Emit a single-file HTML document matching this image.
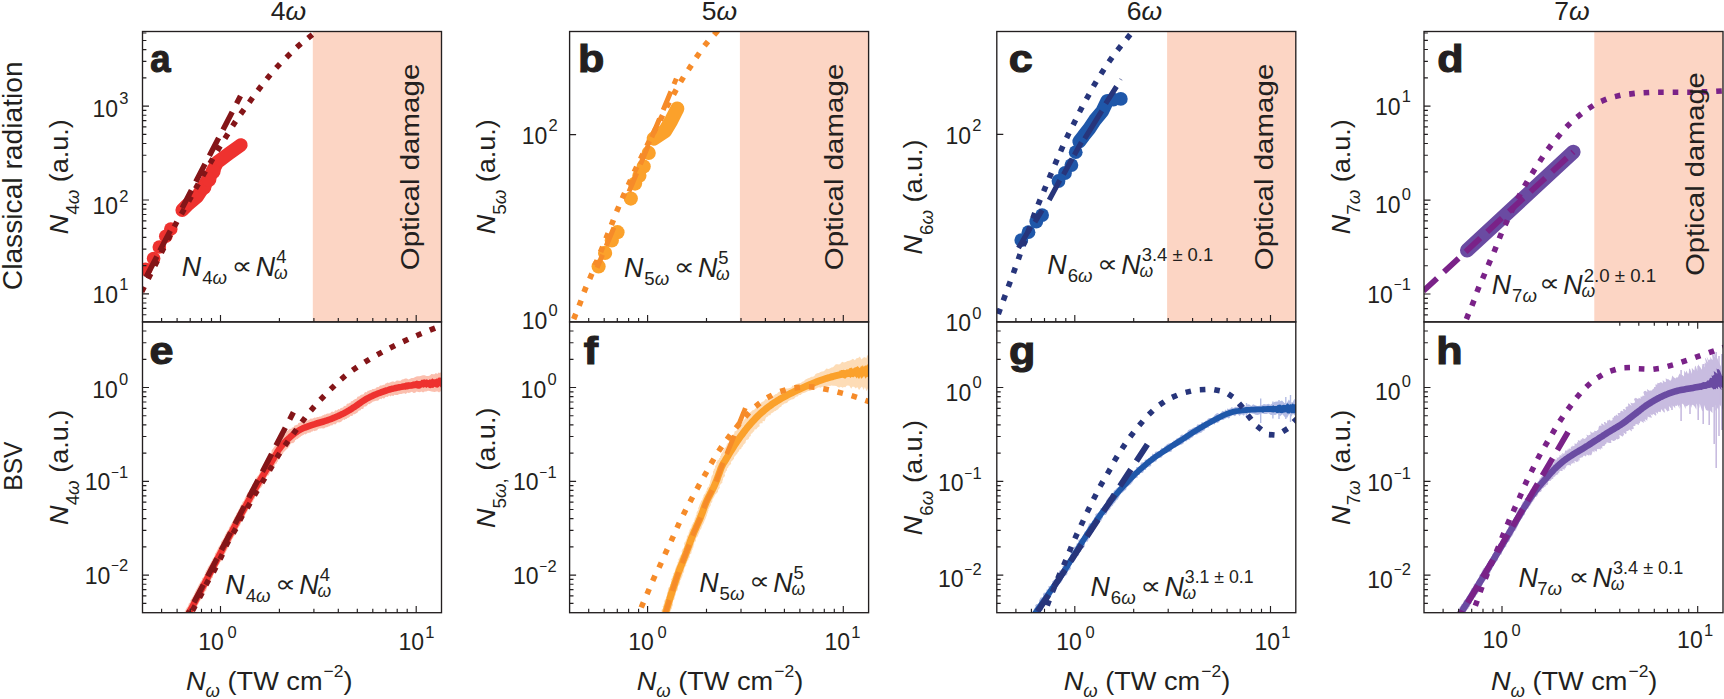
<!DOCTYPE html>
<html lang="en"><head><meta charset="utf-8"><title>Harmonic yield scaling</title>
<style>html,body{margin:0;padding:0;background:#fff;}body{width:1724px;height:699px;overflow:hidden;}svg{display:block;}</style>
</head><body>
<svg width="1724" height="699" viewBox="0 0 1724 699" font-family="'Liberation Sans', 'DejaVu Sans', sans-serif" fill="#231f20">
<rect width="1724" height="699" fill="#fff"/>
<defs>
<clipPath id="cp00"><rect x="142.5" y="31.5" width="299.0" height="290.4"/></clipPath>
<clipPath id="cp01"><rect x="569.6" y="31.5" width="299.0" height="290.4"/></clipPath>
<clipPath id="cp02"><rect x="996.8" y="31.5" width="299.0" height="290.4"/></clipPath>
<clipPath id="cp03"><rect x="1424.0" y="31.5" width="299.0" height="290.4"/></clipPath>
<clipPath id="cp10"><rect x="142.5" y="321.9" width="299.0" height="290.8"/></clipPath>
<clipPath id="cp11"><rect x="569.6" y="321.9" width="299.0" height="290.8"/></clipPath>
<clipPath id="cp12"><rect x="996.8" y="321.9" width="299.0" height="290.8"/></clipPath>
<clipPath id="cp13"><rect x="1424.0" y="321.9" width="299.0" height="290.8"/></clipPath>
</defs>
<rect x="312.8" y="31.5" width="128.7" height="290.4" fill="#fcd5c4"/>
<g clip-path="url(#cp00)">
<path d="M240.9 145.0L229.0 153.5L217.3 162.2L212.2 172.2L207.0 181.0L203.7 186.5L197.2 196.5L187.2 205.1L182.2 210.1" stroke="#ee322f" stroke-width="13.6" stroke-linecap="round" stroke-linejoin="round" fill="none"/><circle cx="170.8" cy="229.0" r="6.8" fill="#ee322f"/><circle cx="165.8" cy="236.3" r="6.8" fill="#ee322f"/><circle cx="159.3" cy="247.0" r="6.8" fill="#ee322f"/><circle cx="153.6" cy="258.5" r="6.8" fill="#ee322f"/><circle cx="145.7" cy="269.2" r="6.8" fill="#ee322f"/><circle cx="213.2" cy="171.5" r="7.4" fill="#ee322f"/><circle cx="204.0" cy="187.3" r="7.4" fill="#ee322f"/><circle cx="209.0" cy="179.5" r="7.4" fill="#ee322f"/><path d="M128.6 317.8L131.1 312.8M135.1 304.8L137.6 299.8M141.7 291.8L144.2 286.8M148.2 278.8L150.7 273.8M154.8 265.8L157.3 260.8M161.3 252.8L163.8 247.8M167.8 239.8L170.4 234.8M174.3 226.8L176.9 221.8M181.4 214.1L184.2 209.2M188.6 201.4L191.3 196.5M195.6 188.7L198.3 183.8M202.7 176.0L205.4 171.1M210.0 163.4L212.8 158.6M217.3 150.8L220.2 146.0M224.9 138.4L227.9 133.7M232.6 126.0L235.6 121.4M240.7 114.0L244.0 109.4M249.3 102.3L252.6 97.7M257.9 90.5L261.3 86.0M266.8 79.0L270.3 74.7M276.2 67.9L280.0 63.8M286.4 57.5L290.4 53.6M296.7 47.3L301.0 43.6M308.0 38.1L312.4 34.6M319.4 29.1L323.8 25.6M330.8 20.0L335.1 16.5" stroke="#841518" stroke-width="5.6" fill="none"/><path d="M240.5 96.1L236.6 103.6M232.2 112.0L223.0 129.7M218.6 138.0L209.4 155.8M205.0 164.1L195.8 181.8M191.4 190.2L182.2 207.9M170.3 230.8L159.8 250.8M156.9 256.5L146.0 277.2" stroke="#841518" stroke-width="5.5" fill="none"/>
</g>
<path d="M142.5 314.7h3.9M142.5 308.4h3.9M142.5 303.0h3.9M142.5 298.2h3.9M142.5 293.9h6.5M142.5 265.6h3.9M142.5 249.1h3.9M142.5 237.4h3.9M142.5 228.3h3.9M142.5 220.8h3.9M142.5 214.5h3.9M142.5 209.1h3.9M142.5 204.3h3.9M142.5 200.0h6.5M142.5 171.7h3.9M142.5 155.2h3.9M142.5 143.5h3.9M142.5 134.4h3.9M142.5 126.9h3.9M142.5 120.6h3.9M142.5 115.2h3.9M142.5 110.4h3.9M142.5 106.1h6.5M142.5 77.8h3.9M142.5 61.3h3.9M142.5 49.6h3.9M142.5 40.5h3.9M142.5 33.0h3.9M161.6 321.9v-3.9M177.1 321.9v-3.9M190.2 321.9v-3.9M201.5 321.9v-3.9M211.5 321.9v-3.9M220.5 321.9v-6.8M279.4 321.9v-3.9M313.9 321.9v-3.9M338.3 321.9v-3.9M357.3 321.9v-3.9M372.8 321.9v-3.9M385.9 321.9v-3.9M397.2 321.9v-3.9M407.2 321.9v-3.9M416.2 321.9v-6.8" stroke="#231f20" stroke-width="1.15" fill="none"/>
<rect x="142.5" y="31.5" width="299.0" height="290.4" fill="none" stroke="#231f20" stroke-width="1.35"/>
<text x="128.5" y="117.0" font-size="23" text-anchor="end">10<tspan font-size="16.5" dy="-12.6" dx="1.2">3</tspan></text>
<text x="128.5" y="214.3" font-size="23" text-anchor="end">10<tspan font-size="16.5" dy="-12.6" dx="1.2">2</tspan></text>
<text x="128.5" y="302.8" font-size="23" text-anchor="end">10<tspan font-size="16.5" dy="-12.6" dx="1.2">1</tspan></text>
<text transform="translate(150.2 71.6) scale(0.95 1.03)" font-size="38.5" font-weight="bold" stroke="#231f20" stroke-width="1.1">a</text>
<text transform="translate(68.0 176.7) rotate(-90) scale(1.02 1)" font-size="26.5" text-anchor="middle"><tspan font-style="italic">N</tspan><tspan font-size="18.4" dy="10.5">4<tspan font-style="italic">ω</tspan></tspan><tspan dy="-10.5"> (a.u.)</tspan></text>
<text x="181.8" y="275.7" font-size="26.8" font-style="italic">N</text><text x="202.2" y="284.0" font-size="18.6">4<tspan font-style="italic">ω</tspan></text><text transform="translate(231.6 273.5) scale(1.22 1)" font-size="24">∝</text><text x="255.8" y="275.7" font-size="26.8" font-style="italic">N</text><text x="276.2" y="263.1" font-size="18.4">4</text><text x="274.0" y="278.7" font-size="17.5" font-style="italic">ω</text>
<text x="288.4" y="19.7" font-size="26.5" text-anchor="middle">4<tspan font-style="italic">ω</tspan></text>
<text transform="translate(418.5 167.0) rotate(-90) scale(1.157 1)" font-size="25.5" text-anchor="middle">Optical damage</text>
<rect x="739.9" y="31.5" width="128.7" height="290.4" fill="#fcd5c4"/>
<g clip-path="url(#cp01)">
<path d="M677.3 108.6L671.0 121.0L665.0 131.0L653.7 138.6" stroke="#fba12b" stroke-width="14.2" stroke-linecap="round" stroke-linejoin="round" fill="none"/><circle cx="648.7" cy="152.9" r="7.1" fill="#fba12b"/><circle cx="643.7" cy="166.5" r="7.1" fill="#fba12b"/><circle cx="639.4" cy="175.7" r="7.1" fill="#fba12b"/><circle cx="635.1" cy="183.6" r="7.1" fill="#fba12b"/><circle cx="630.8" cy="198.6" r="7.1" fill="#fba12b"/><circle cx="617.5" cy="232.2" r="7.1" fill="#fba12b"/><circle cx="611.8" cy="240.4" r="7.1" fill="#fba12b"/><circle cx="605.1" cy="252.9" r="7.1" fill="#fba12b"/><circle cx="598.6" cy="266.5" r="7.1" fill="#fba12b"/><path d="M562.9 346.0L565.0 340.8M568.3 332.5L570.4 327.3M573.7 319.1L575.8 313.9M579.1 305.7L581.1 300.5M584.0 292.1L586.1 286.9M589.7 278.8L591.9 273.6M595.1 265.4L597.2 260.2M600.6 252.0L602.7 246.8M606.0 238.5L608.1 233.3M611.4 225.1L613.4 219.9M616.6 211.6L618.8 206.5M622.3 198.3L624.6 193.2M628.3 185.2L630.6 180.1M634.3 172.0L636.7 166.9M640.6 159.0L643.0 153.9M646.9 146.0L649.4 141.0M653.5 133.0L656.0 128.1M660.1 120.2L662.6 115.2M666.6 107.3L669.2 102.3M673.5 94.6L676.2 89.7M680.6 81.9L683.5 77.1M688.4 69.7L691.4 65.1M696.2 57.6L699.4 53.0M704.5 45.8L708.0 41.4M714.1 34.9L717.8 30.7M723.8 24.2L727.5 20.0M733.5 13.4L737.2 9.3" stroke="#f68b29" stroke-width="5.6" fill="none"/><path d="M676.3 78.6L674.0 84.1M670.9 91.5L663.2 110.0M659.5 118.7L651.8 137.2M648.1 145.9L640.4 164.4M636.7 173.1L629.0 191.6M613.9 227.6L606.2 246.0M602.5 254.8L597.1 267.7" stroke="#f68b29" stroke-width="5.0" fill="none"/>
</g>
<path d="M569.6 134.6h6.5M588.7 321.9v-3.9M604.2 321.9v-3.9M617.3 321.9v-3.9M628.6 321.9v-3.9M638.6 321.9v-3.9M647.6 321.9v-6.8M706.5 321.9v-3.9M741.0 321.9v-3.9M765.4 321.9v-3.9M784.4 321.9v-3.9M799.9 321.9v-3.9M813.0 321.9v-3.9M824.3 321.9v-3.9M834.3 321.9v-3.9M843.3 321.9v-6.8" stroke="#231f20" stroke-width="1.15" fill="none"/>
<rect x="569.6" y="31.5" width="299.0" height="290.4" fill="none" stroke="#231f20" stroke-width="1.35"/>
<text x="557.8" y="143.8" font-size="23" text-anchor="end">10<tspan font-size="16.5" dy="-12.6" dx="1.2">2</tspan></text>
<text x="557.8" y="329.0" font-size="23" text-anchor="end">10<tspan font-size="16.5" dy="-12.6" dx="1.2">0</tspan></text>
<text transform="translate(578.1 71.6) scale(1.12 1.03)" font-size="38.5" font-weight="bold" stroke="#231f20" stroke-width="1.1">b</text>
<text transform="translate(495.1 176.7) rotate(-90) scale(1.02 1)" font-size="26.5" text-anchor="middle"><tspan font-style="italic">N</tspan><tspan font-size="18.4" dy="10.5">5<tspan font-style="italic">ω</tspan></tspan><tspan dy="-10.5"> (a.u.)</tspan></text>
<text x="623.9" y="276.8" font-size="26.8" font-style="italic">N</text><text x="644.3" y="285.1" font-size="18.6">5<tspan font-style="italic">ω</tspan></text><text transform="translate(673.7 274.6) scale(1.22 1)" font-size="24">∝</text><text x="697.9" y="276.8" font-size="26.8" font-style="italic">N</text><text x="718.3" y="264.2" font-size="18.4">5</text><text x="716.1" y="279.8" font-size="17.5" font-style="italic">ω</text>
<text x="719.5" y="19.7" font-size="26.5" text-anchor="middle">5<tspan font-style="italic">ω</tspan></text>
<text transform="translate(843.0 167.0) rotate(-90) scale(1.157 1)" font-size="25.5" text-anchor="middle">Optical damage</text>
<rect x="1167.1" y="31.5" width="128.7" height="290.4" fill="#fcd5c4"/>
<g clip-path="url(#cp02)">
<path d="M1107.2 100.9L1102.2 111.4L1095.0 120.0L1089.3 128.6L1083.6 135.8L1079.3 141.5" stroke="#1f57a9" stroke-width="13.8" stroke-linecap="round" stroke-linejoin="round" fill="none"/><circle cx="1120.8" cy="98.9" r="6.9" fill="#1f57a9"/><circle cx="1113.5" cy="99.6" r="6.9" fill="#1f57a9"/><circle cx="1075.7" cy="152.2" r="6.9" fill="#1f57a9"/><circle cx="1071.4" cy="165.1" r="6.9" fill="#1f57a9"/><circle cx="1065.0" cy="173.0" r="6.9" fill="#1f57a9"/><circle cx="1058.5" cy="181.0" r="6.9" fill="#1f57a9"/><circle cx="1042.1" cy="215.1" r="6.9" fill="#1f57a9"/><circle cx="1036.3" cy="221.5" r="6.9" fill="#1f57a9"/><circle cx="1028.5" cy="232.2" r="6.9" fill="#1f57a9"/><circle cx="1021.3" cy="240.1" r="6.9" fill="#1f57a9"/><path d="M988.3 341.3L990.2 336.0M993.3 327.7L995.2 322.4M998.3 314.0L1000.2 308.8M1003.3 300.4L1005.3 295.1M1008.3 286.7L1010.3 281.5M1013.4 273.1L1015.3 267.8M1018.3 259.4L1020.1 254.2M1023.1 245.7L1025.0 240.5M1028.0 232.1L1029.9 226.8M1032.8 218.4L1034.8 213.1M1038.1 204.8L1040.2 199.6M1043.7 191.4L1045.8 186.2M1049.2 178.0L1051.4 172.8M1054.9 164.6L1057.1 159.4M1060.6 151.3L1062.9 146.1M1066.6 138.0L1069.0 133.0M1073.1 125.0L1075.6 120.0M1079.5 112.0L1082.1 107.0M1086.4 99.2L1089.1 94.3M1093.4 86.4L1096.2 81.6M1101.0 74.1L1104.0 69.3M1108.9 61.8L1112.1 57.3M1117.5 50.2L1121.0 45.8M1126.7 38.9L1130.2 34.6M1135.9 27.6L1139.4 23.3M1145.0 16.4L1148.6 12.0" stroke="#27357b" stroke-width="5.6" fill="none"/><path d="M1116.5 86.5L1105.7 103.7M1101.8 110.8L1084.7 138.6M1081.4 142.2L1074.3 155.1M1072.1 158.7L1063.5 174.4M1059.8 180.2L1049.2 200.0M1042.1 210.1L1034.9 222.2M1030.6 227.2L1018.5 248.0" stroke="#27357b" stroke-width="5.2" fill="none"/><path d="M1119.3 78.6L1122.3 80.2" stroke="#27357b" stroke-width="0.6"/>
</g>
<path d="M996.8 134.4h6.5M1015.9 321.9v-3.9M1031.4 321.9v-3.9M1044.5 321.9v-3.9M1055.8 321.9v-3.9M1065.8 321.9v-3.9M1074.8 321.9v-6.8M1133.7 321.9v-3.9M1168.2 321.9v-3.9M1192.6 321.9v-3.9M1211.6 321.9v-3.9M1227.1 321.9v-3.9M1240.2 321.9v-3.9M1251.5 321.9v-3.9M1261.5 321.9v-3.9M1270.5 321.9v-6.8" stroke="#231f20" stroke-width="1.15" fill="none"/>
<rect x="996.8" y="31.5" width="299.0" height="290.4" fill="none" stroke="#231f20" stroke-width="1.35"/>
<text x="981.4" y="143.7" font-size="23" text-anchor="end">10<tspan font-size="16.5" dy="-12.6" dx="1.2">2</tspan></text>
<text x="981.4" y="331.4" font-size="23" text-anchor="end">10<tspan font-size="16.5" dy="-12.6" dx="1.2">0</tspan></text>
<text transform="translate(1008.7 71.6) scale(1.12 1.03)" font-size="38.5" font-weight="bold" stroke="#231f20" stroke-width="1.1">c</text>
<text transform="translate(922.3 197.0) rotate(-90) scale(1.02 1)" font-size="26.5" text-anchor="middle"><tspan font-style="italic">N</tspan><tspan font-size="18.4" dy="10.5">6<tspan font-style="italic">ω</tspan></tspan><tspan dy="-10.5"> (a.u.)</tspan></text>
<text x="1047.3" y="273.9" font-size="26.8" font-style="italic">N</text><text x="1067.7" y="282.2" font-size="18.6">6<tspan font-style="italic">ω</tspan></text><text transform="translate(1097.1 271.7) scale(1.22 1)" font-size="24">∝</text><text x="1121.3" y="273.9" font-size="26.8" font-style="italic">N</text><text x="1141.7" y="261.3" font-size="18.4" textLength="71.5" lengthAdjust="spacingAndGlyphs">3.4 ± 0.1</text><text x="1139.5" y="276.9" font-size="17.5" font-style="italic">ω</text>
<text x="1144.4" y="19.7" font-size="26.5" text-anchor="middle">6<tspan font-style="italic">ω</tspan></text>
<text transform="translate(1273.3 167.0) rotate(-90) scale(1.157 1)" font-size="25.5" text-anchor="middle">Optical damage</text>
<rect x="1594.3" y="31.5" width="128.7" height="290.4" fill="#fcd5c4"/>
<g clip-path="url(#cp03)">
<path d="M1467.2 250.3L1573.4 151.9" stroke="#6a4ba2" stroke-width="14.4" stroke-linecap="round" stroke-linejoin="round" fill="none"/><path d="M1455.5 346.0L1457.6 340.8M1461.0 332.5L1463.1 327.4M1466.4 319.1L1468.5 313.9M1471.9 305.7L1474.0 300.4M1476.9 292.0L1479.0 286.8M1482.6 278.7L1484.8 273.5M1488.2 265.3L1490.4 260.1M1494.0 252.0L1496.1 246.8M1499.3 238.5L1501.4 233.3M1505.1 225.1L1507.4 220.1M1511.2 212.0L1513.6 206.9M1517.6 199.0L1520.2 194.0M1524.5 186.2L1527.3 181.3M1532.0 173.7L1534.9 169.0M1539.7 161.5L1542.8 156.8M1547.9 149.5L1551.2 145.0M1556.9 138.1L1560.5 133.8M1566.4 127.1L1570.3 123.2M1577.0 117.3L1581.4 113.8M1588.6 108.5L1593.3 105.5M1601.2 101.3L1606.4 99.2M1614.9 96.6L1620.4 95.3M1629.2 94.1L1634.8 93.4M1643.6 92.8L1649.2 92.5M1658.1 92.2L1663.7 92.2M1672.7 92.2L1678.3 92.2M1687.2 92.2L1692.8 92.2M1701.7 91.9L1707.3 91.7M1716.2 91.3L1721.8 91.0M1730.7 90.5L1736.3 90.3M1745.2 89.8L1750.8 89.5" stroke="#7a2288" stroke-width="5.6" fill="none"/><path d="M1573.4 151.9L1572.3 152.9M1566.8 158.0L1552.1 171.6M1545.2 178.1L1530.5 191.7M1523.5 198.1L1508.9 211.7M1501.9 218.2L1487.2 231.8M1480.3 238.2L1465.6 251.8M1458.6 258.3L1444.0 271.9M1437.0 278.3L1423.4 290.9" stroke="#7a2288" stroke-width="5.8" fill="none"/>
</g>
<path d="M1424.0 314.8h3.9M1424.0 308.6h3.9M1424.0 303.1h3.9M1424.0 298.3h3.9M1424.0 294.0h6.5M1424.0 265.7h3.9M1424.0 249.2h3.9M1424.0 237.4h3.9M1424.0 228.3h3.9M1424.0 220.9h3.9M1424.0 214.6h3.9M1424.0 209.2h3.9M1424.0 204.3h3.9M1424.0 200.1h6.5M1424.0 171.8h3.9M1424.0 155.2h3.9M1424.0 143.5h3.9M1424.0 134.4h3.9M1424.0 126.9h3.9M1424.0 120.7h3.9M1424.0 115.2h3.9M1424.0 110.4h3.9M1424.0 106.1h6.5M1424.0 77.8h3.9M1424.0 61.3h3.9M1424.0 49.5h3.9M1424.0 40.4h3.9M1424.0 33.0h3.9M1619.8 321.9v3.9M1638.8 321.9v3.9M1654.3 321.9v3.9M1667.4 321.9v3.9M1678.7 321.9v3.9M1688.7 321.9v3.9M1697.7 321.9v6.8" stroke="#231f20" stroke-width="1.15" fill="none"/>
<rect x="1424.0" y="31.5" width="299.0" height="290.4" fill="none" stroke="#231f20" stroke-width="1.35"/>
<text x="1411.0" y="114.9" font-size="23" text-anchor="end">10<tspan font-size="16.5" dy="-12.6" dx="1.2">1</tspan></text>
<text x="1411.0" y="212.6" font-size="23" text-anchor="end">10<tspan font-size="16.5" dy="-12.6" dx="1.2">0</tspan></text>
<text x="1411.0" y="302.8" font-size="23" text-anchor="end">10<tspan font-size="13.5" dy="-13.6" dx="1.0">−</tspan><tspan font-size="16.5" dy="1.0">1</tspan></text>
<text transform="translate(1437.2 71.6) scale(1.12 1.03)" font-size="38.5" font-weight="bold" stroke="#231f20" stroke-width="1.1">d</text>
<text transform="translate(1349.5 176.7) rotate(-90) scale(1.02 1)" font-size="26.5" text-anchor="middle"><tspan font-style="italic">N</tspan><tspan font-size="18.4" dy="10.5">7<tspan font-style="italic">ω</tspan></tspan><tspan dy="-10.5"> (a.u.)</tspan></text>
<text x="1491.7" y="293.6" font-size="26.8" font-style="italic">N</text><text x="1512.1" y="301.9" font-size="18.6">7<tspan font-style="italic">ω</tspan></text><text transform="translate(1539.1 291.4) scale(1.22 1)" font-size="24">∝</text><text x="1563.3" y="293.6" font-size="26.8" font-style="italic">N</text><text x="1583.7" y="282.2" font-size="18.4" textLength="72.5" lengthAdjust="spacingAndGlyphs">2.0 ± 0.1</text><text x="1581.5" y="296.6" font-size="17.5" font-style="italic">ω</text>
<text x="1571.9" y="19.7" font-size="26.5" text-anchor="middle">7<tspan font-style="italic">ω</tspan></text>
<text transform="translate(1703.8 174.0) rotate(-90) scale(1.14 1)" font-size="25.5" text-anchor="middle">Optical damage</text>
<g clip-path="url(#cp10)">
<path d="M183.0 616.3L183.0 616.0L182.8 615.6L183.5 615.7L183.4 615.3L182.9 614.6L183.2 614.3L183.6 614.0L183.8 613.5L184.2 613.0L184.4 612.4L184.7 611.6L185.5 611.0L185.4 609.9L186.1 608.9L186.7 607.8L187.7 606.7L188.4 605.3L188.8 603.6L190.3 602.3L190.4 600.3L191.7 598.7L192.7 597.0L193.8 595.3L194.5 593.4L195.4 591.6L196.2 589.7L197.3 588.1L198.0 586.4L198.8 584.7L199.8 583.2L200.6 581.5L201.9 580.1L202.2 578.2L203.8 576.9L204.4 575.1L205.3 573.5L205.7 571.6L206.7 570.1L207.5 568.4L208.2 566.7L209.4 565.2L210.4 563.6L211.0 561.9L212.3 560.4L212.7 558.6L214.1 557.2L214.7 555.4L215.1 553.5L216.3 552.0L217.0 550.3L217.9 548.7L218.5 546.9L219.8 545.5L220.8 543.9L221.0 541.9L222.2 540.5L223.2 539.0L224.4 537.5L224.7 535.6L225.6 534.0L226.4 532.4L227.3 530.7L228.7 529.4L229.0 527.5L230.2 526.1L230.8 524.3L231.8 522.9L232.7 521.3L233.6 519.7L234.1 517.9L235.1 516.4L236.2 514.9L236.6 513.1L238.0 511.8L238.4 510.0L239.6 508.6L240.0 506.7L240.9 505.1L242.2 503.8L242.5 502.0L244.0 500.7L244.6 499.0L245.2 497.3L246.6 496.1L246.9 494.2L247.8 492.6L249.3 491.4L249.7 489.4L251.0 488.0L251.9 486.4L252.3 484.5L254.0 483.4L254.2 481.4L255.4 480.2L255.8 478.5L256.7 477.2L257.6 476.0L258.6 475.0L259.3 473.9L259.6 472.7L259.9 471.6L260.4 470.6L260.9 469.8L261.4 469.0L262.6 468.8L262.9 468.0L262.9 467.0L263.5 466.5L263.7 465.8L264.3 465.4L264.5 464.7L264.9 464.1L265.1 463.4L265.8 463.1L265.4 462.1L265.7 461.7L266.2 461.3L267.0 461.2L267.0 460.7L267.1 460.1L267.0 459.4L268.0 459.4L268.2 458.9L267.6 457.8L268.8 457.8L268.9 457.0L269.2 456.4L269.3 455.6L270.1 455.1L270.6 454.4L270.3 453.2L271.5 452.8L271.6 451.7L271.6 450.6L272.0 449.7L272.9 449.1L273.4 448.1L274.0 447.3L274.5 446.4L275.0 445.4L276.1 445.0L276.3 443.9L276.3 442.7L276.9 441.9L278.2 441.7L278.9 441.0L279.0 439.8L279.5 438.9L280.2 438.2L281.5 438.1L282.3 437.4L282.2 435.9L283.6 435.9L283.5 434.3L285.1 434.5L285.7 433.7L285.9 432.4L286.4 431.4L287.3 430.9L288.2 430.2L289.0 429.5L289.9 428.8L291.4 428.9L291.8 427.6L293.0 427.4L293.9 426.7L294.5 425.5L295.7 425.3L296.7 424.8L297.9 424.6L298.3 422.9L299.4 422.7L300.4 422.4L301.4 422.0L302.5 421.8L303.2 420.9L304.7 421.6L305.2 420.1L306.5 420.4L307.6 420.4L308.6 420.0L309.6 419.5L310.6 418.6L312.1 418.7L313.3 418.2L314.5 417.6L315.9 417.8L317.1 417.0L318.5 417.1L319.7 416.6L321.1 416.5L322.2 415.6L323.4 415.3L324.4 414.5L325.7 414.6L326.6 413.7L327.7 413.5L328.9 413.4L330.2 413.3L331.0 412.3L332.0 411.6L333.4 412.0L334.5 411.5L335.1 410.2L336.5 410.5L337.5 410.0L338.2 409.0L339.6 409.4L340.3 408.6L341.0 407.8L342.3 408.1L342.7 407.2L343.6 407.1L343.8 405.8L344.8 405.9L345.6 405.8L346.4 405.6L346.5 404.2L347.1 403.7L348.0 403.5L349.0 403.6L349.5 402.7L350.6 402.7L350.9 401.3L352.0 401.3L352.8 400.8L353.5 400.0L354.4 399.6L355.3 398.9L356.6 398.8L357.1 397.5L357.8 396.5L359.3 396.6L360.1 395.6L361.1 394.8L362.5 394.5L363.7 394.2L364.4 392.7L365.5 392.1L366.9 392.2L367.6 390.8L369.0 390.7L370.0 389.9L371.4 389.9L372.4 389.1L373.6 388.9L374.9 388.7L376.0 388.3L376.8 386.9L378.2 387.3L379.2 386.5L380.1 385.5L381.3 385.4L382.5 385.3L383.5 384.7L384.7 384.8L385.5 383.6L386.5 383.2L387.5 382.6L388.8 382.9L389.9 382.4L391.0 382.0L392.2 381.4L393.5 381.4L395.0 382.1L396.1 380.7L397.5 380.6L399.1 380.8L400.6 380.8L402.0 379.5L403.6 379.3L405.1 378.5L406.7 378.4L408.5 379.4L410.1 378.8L411.6 378.0L413.3 378.1L414.8 377.2L416.3 376.6L417.9 376.2L419.5 376.2L421.2 375.8L422.9 375.3L424.6 375.2L426.5 376.1L428.2 375.9L429.9 375.4L431.4 374.0L433.1 374.2L434.6 374.2L435.9 372.9L437.4 373.9L438.4 372.5L439.5 373.0L440.3 372.3L441.3 373.5L441.8 371.6L442.4 372.2L443.0 372.6L443.4 372.1L443.8 372.9L444.1 372.4L444.4 372.6L444.5 371.6L444.7 370.9L444.9 371.6L445.0 372.5L445.2 371.9L446.8 391.1L446.8 393.3L446.4 391.9L446.1 391.0L446.0 391.8L445.7 390.8L445.6 391.9L445.3 391.0L445.0 391.1L444.6 391.0L444.2 391.0L443.6 390.9L442.9 391.0L442.2 391.0L441.3 391.7L440.2 391.3L439.1 392.5L437.7 391.4L436.2 391.5L434.8 391.9L433.1 391.7L431.5 391.6L429.7 391.0L428.0 390.7L426.3 391.6L424.6 391.5L423.1 392.5L421.3 391.5L419.9 392.2L418.3 392.1L416.6 391.4L415.2 392.8L413.6 393.1L411.9 391.8L410.3 392.4L408.8 393.1L407.2 392.4L405.9 394.0L404.3 393.3L402.8 393.6L401.5 393.9L400.1 394.0L398.9 394.2L397.7 394.9L396.6 395.0L395.4 394.9L394.3 394.8L393.5 396.1L392.4 395.7L391.3 395.6L390.6 396.6L389.2 395.6L388.4 396.2L387.6 397.0L386.4 396.7L385.4 397.0L384.6 398.2L383.6 398.5L382.2 398.1L381.5 399.2L380.1 398.7L379.1 399.4L378.4 400.5L377.3 400.8L376.0 400.8L375.0 401.1L373.9 401.4L372.8 401.6L372.0 402.5L371.1 402.9L370.3 403.6L369.5 404.3L368.3 404.1L367.6 405.0L366.8 405.7L366.1 406.5L364.7 406.4L363.8 407.0L363.6 408.6L362.4 408.9L361.2 409.1L360.7 410.3L359.5 410.5L358.4 410.9L357.9 412.2L357.1 412.8L356.4 413.3L355.5 413.7L354.8 414.2L353.8 414.3L352.9 414.4L352.7 415.8L351.8 416.0L350.6 415.8L350.0 416.6L349.3 417.3L348.4 417.7L347.3 418.0L346.6 418.9L345.4 419.0L344.7 420.1L343.2 419.6L342.4 420.5L341.5 421.6L340.5 422.1L339.2 422.4L337.8 422.3L336.7 422.7L335.9 424.2L334.6 424.3L333.1 424.2L332.3 425.6L330.8 425.3L329.7 426.2L328.3 426.4L327.1 427.2L325.7 427.3L324.5 428.3L323.1 428.4L321.7 428.2L320.4 428.6L319.0 428.5L317.9 429.2L317.0 430.4L315.8 430.5L314.9 431.2L313.5 430.6L312.7 431.4L311.5 431.4L310.7 432.4L309.7 432.4L308.9 433.1L307.8 432.6L307.2 433.6L306.3 433.7L305.7 434.4L304.6 433.9L304.0 434.6L303.4 435.1L302.6 435.3L301.9 435.7L301.2 436.1L300.7 436.8L299.6 436.8L299.4 438.1L298.3 438.0L298.1 439.2L296.6 438.8L296.3 439.9L295.2 439.9L295.0 441.1L294.5 442.0L293.8 442.6L293.1 443.2L291.8 443.1L291.1 443.6L290.4 444.2L289.8 444.9L289.7 445.9L289.1 446.4L288.6 447.1L288.2 447.9L287.6 448.5L286.6 448.8L286.4 449.7L285.4 449.9L285.4 451.0L284.4 451.3L284.2 452.1L283.2 452.4L283.2 453.4L282.7 454.0L281.9 454.5L281.6 455.4L280.9 456.0L280.7 456.9L279.7 457.4L279.5 458.3L279.2 459.2L278.5 459.8L278.0 460.6L277.9 461.5L277.1 462.0L276.9 462.7L276.9 463.4L275.7 463.5L275.5 464.0L275.0 464.4L275.2 465.1L275.0 465.5L274.4 465.8L274.7 466.6L273.6 466.5L274.0 467.5L273.6 468.0L273.3 468.5L272.3 468.8L272.4 469.8L272.0 470.4L271.1 470.7L271.2 471.7L270.4 472.0L269.8 472.5L269.7 473.4L269.1 474.0L268.9 474.9L268.2 475.5L267.0 476.0L266.7 477.0L265.9 477.9L265.5 479.1L264.9 480.3L264.5 481.7L263.1 482.7L263.0 484.5L262.1 486.0L261.2 487.5L259.7 488.7L259.0 490.4L258.1 492.0L257.0 493.6L256.1 495.2L255.3 496.8L254.7 498.6L253.5 499.9L253.1 501.7L251.7 503.0L250.8 504.5L250.2 506.2L249.5 507.9L248.3 509.2L247.6 510.9L246.7 512.4L245.6 513.9L245.1 515.6L244.0 517.1L243.2 518.7L242.8 520.5L241.3 521.8L240.7 523.5L240.1 525.2L239.0 526.7L238.1 528.3L237.4 529.9L237.0 531.8L235.3 533.0L235.1 534.9L233.9 536.3L233.1 538.0L231.9 539.4L231.5 541.3L230.6 542.9L229.3 544.2L228.9 546.1L227.8 547.6L227.3 549.4L226.3 551.0L225.5 552.7L224.7 554.3L223.7 555.9L222.8 557.5L222.4 559.4L221.5 561.0L220.0 562.3L219.4 564.1L218.2 565.6L217.3 567.2L217.3 569.3L216.4 571.0L215.0 572.3L213.9 573.8L213.0 575.5L212.8 577.4L211.4 578.8L211.1 580.8L210.4 582.5L208.8 583.7L208.4 585.6L207.2 587.1L206.6 588.9L206.1 590.7L204.5 592.0L204.4 594.1L203.4 595.8L202.4 597.6L201.1 599.2L200.0 600.9L199.0 602.6L198.2 604.4L197.1 606.0L196.2 607.5L196.1 609.4L195.2 610.7L194.7 612.0L194.1 613.1L193.2 613.9L192.3 614.6L192.4 615.6L191.6 616.0L192.0 616.9L191.8 617.5L191.0 617.6L191.1 618.1L190.9 618.4L190.6 618.6L191.0 619.2L190.1 619.1L190.5 619.6L190.3 619.9Z" fill="#fbbfae"/><path d="M186.5 618.0L186.7 617.7L186.8 617.3L187.0 616.9L187.2 616.4L187.5 615.9L187.8 615.3L188.2 614.5L188.7 613.5L189.3 612.4L190.0 611.0L190.9 609.4L191.9 607.5L193.0 605.4L194.2 603.1L195.5 600.8L196.8 598.3L198.1 595.8L199.5 593.3L200.8 590.8L202.0 588.5L203.2 586.2L204.4 583.9L205.6 581.6L206.8 579.3L208.0 577.0L209.2 574.7L210.4 572.4L211.6 570.1L212.8 567.8L214.0 565.5L215.2 563.2L216.4 560.9L217.6 558.6L218.8 556.3L220.0 554.0L221.2 551.7L222.4 549.4L223.6 547.1L224.8 544.8L226.0 542.5L227.2 540.2L228.4 538.0L229.6 535.7L230.8 533.4L232.0 531.2L233.2 528.9L234.4 526.7L235.6 524.5L236.8 522.2L238.0 520.0L239.2 517.8L240.4 515.6L241.6 513.3L242.8 511.1L244.0 508.9L245.2 506.7L246.4 504.5L247.6 502.3L248.8 500.2L250.0 498.0L251.2 495.8L252.5 493.6L253.8 491.3L255.1 489.0L256.3 486.8L257.6 484.6L258.8 482.5L259.9 480.5L261.0 478.7L262.0 477.0L262.9 475.5L263.7 474.2L264.5 473.0L265.2 471.9L265.8 470.9L266.4 469.9L267.0 469.1L267.6 468.2L268.2 467.4L268.7 466.5L269.2 465.7L269.7 464.9L270.1 464.3L270.5 463.6L270.9 463.0L271.2 462.4L271.6 461.8L272.0 461.1L272.5 460.3L273.0 459.5L273.6 458.6L274.1 457.6L274.7 456.5L275.3 455.4L276.0 454.3L276.7 453.1L277.3 452.0L278.0 450.8L278.8 449.7L279.5 448.7L280.3 447.7L281.0 446.7L281.8 445.7L282.6 444.7L283.5 443.8L284.3 442.8L285.2 441.9L286.1 440.9L287.0 440.0L288.0 439.1L289.0 438.2L290.0 437.3L291.0 436.3L292.1 435.4L293.1 434.5L294.2 433.7L295.3 432.8L296.5 432.0L297.6 431.2L298.8 430.5L300.0 429.8L301.2 429.2L302.4 428.6L303.6 428.1L304.8 427.6L306.1 427.1L307.4 426.6L308.7 426.1L310.1 425.6L311.6 425.1L313.2 424.6L314.8 424.1L316.5 423.5L318.3 423.0L320.1 422.5L321.9 422.0L323.7 421.5L325.4 420.9L327.1 420.4L328.8 419.8L330.4 419.2L332.0 418.6L333.6 417.9L335.2 417.3L336.7 416.6L338.2 416.0L339.7 415.3L341.1 414.6L342.5 414.0L343.8 413.3L345.0 412.7L346.2 412.0L347.3 411.4L348.3 410.8L349.3 410.2L350.3 409.6L351.3 409.0L352.3 408.3L353.4 407.6L354.5 406.9L355.7 406.1L356.9 405.3L358.1 404.4L359.4 403.5L360.7 402.6L362.0 401.7L363.3 400.8L364.7 399.9L366.0 399.1L367.4 398.3L368.8 397.6L370.3 396.8L371.7 396.2L373.2 395.5L374.8 394.8L376.3 394.2L377.8 393.6L379.4 393.0L380.9 392.4L382.4 391.9L383.9 391.4L385.3 390.9L386.7 390.4L388.1 390.0L389.5 389.5L391.0 389.1L392.5 388.7L394.1 388.4L395.7 388.0L397.5 387.6L399.4 387.2L401.4 386.9L403.5 386.5L405.6 386.2L407.8 385.9L410.0 385.6L412.3 385.3L414.5 385.0L416.7 384.7L418.9 384.4L421.1 384.1L423.4 383.9L425.8 383.6L428.3 383.4L430.6 383.1L432.9 382.9L435.1 382.7L437.1 382.5L438.9 382.3L440.4 382.2L441.6 382.1L442.6 382.0L443.4 381.9L444.1 381.9L444.5 381.8L444.9 381.8L445.2 381.8L445.5 381.7L445.7 381.7L446.0 381.7" stroke="#ee322f" stroke-width="6.5" stroke-linejoin="round" fill="none"/><path d="M404.5 383.3L405.5 382.4L407.0 382.5L408.8 382.3L410.9 383.0L412.7 381.5L414.8 381.5L416.7 380.6L418.5 381.1L420.1 381.5L421.4 379.8L422.9 379.8L424.2 379.2L425.6 379.7L426.9 379.3L428.4 380.2L429.6 379.3L431.0 379.7L432.3 378.2L433.9 379.6L435.2 379.4L436.5 378.6L437.8 378.4L438.9 377.2L440.0 377.7L441.0 377.6L441.9 378.1L442.8 378.2L443.4 377.3L444.2 378.1L444.6 376.3L445.2 377.6L445.6 376.9L446.4 385.8L446.1 387.2L445.5 385.9L444.9 386.7L444.3 386.5L443.5 386.7L442.7 387.1L441.7 386.2L440.9 387.6L439.7 386.1L438.6 387.3L437.4 387.8L436.0 387.4L434.5 386.7L433.2 387.9L431.8 387.7L430.5 388.2L429.1 388.1L427.7 387.0L426.5 388.1L425.0 386.9L423.7 387.7L422.2 387.0L420.9 388.3L419.5 388.7L417.8 388.8L415.7 387.9L413.7 388.1L411.7 388.5L409.7 388.3L408.1 389.5L406.5 389.0L405.5 389.9Z" fill="#ee322f"/><path d="M178.7 636.2L181.3 631.2M185.6 623.4L188.3 618.5M192.5 610.6L195.2 605.7M199.5 597.8L202.1 592.8M205.9 584.8L208.6 579.9M213.3 572.2L215.9 567.3M220.0 559.3L222.4 554.2M225.9 546.0L228.5 541.0M233.1 533.4L235.9 528.5M239.7 520.4L242.4 515.5M247.2 508.0L250.1 503.1M254.4 495.3L257.2 490.5M261.9 482.9L264.8 478.1M269.5 470.4L272.3 465.6M276.8 457.8L279.7 453.1M284.9 445.7L288.1 441.2M293.3 433.9L296.5 429.3M301.8 422.1L305.2 417.6M310.8 410.6L314.4 406.4M320.4 399.8L324.3 395.7M330.6 389.3L334.6 385.4M341.1 379.3L345.4 375.7M352.5 370.3L357.1 367.1M364.7 362.2L369.4 359.3M377.2 354.8L382.1 352.1M390.0 347.9L395.0 345.4M403.1 341.6L408.2 339.2M416.4 335.7L421.5 333.5M429.8 330.2L435.1 328.1M443.4 324.8L448.6 322.7M456.9 319.4L462.1 317.3" stroke="#841518" stroke-width="5.6" fill="none"/><path d="M293.4 412.3L289.7 419.4M285.3 427.8L276.0 445.5M271.6 454.0L262.4 471.7M258.0 480.1L248.7 497.8M244.3 506.2L235.0 524.0M230.6 532.4L221.4 550.1M217.0 558.5L207.7 576.3M203.3 584.7L194.0 602.4M189.6 610.8L186.8 616.1" stroke="#841518" stroke-width="5.5" fill="none"/>
</g>
<path d="M142.5 603.3h3.9M142.5 595.9h3.9M142.5 589.6h3.9M142.5 584.2h3.9M142.5 579.4h3.9M142.5 575.1h6.5M142.5 546.9h3.9M142.5 530.3h3.9M142.5 518.6h3.9M142.5 509.5h3.9M142.5 502.1h3.9M142.5 495.8h3.9M142.5 490.4h3.9M142.5 485.6h3.9M142.5 481.3h6.5M142.5 453.1h3.9M142.5 436.5h3.9M142.5 424.8h3.9M142.5 415.7h3.9M142.5 408.3h3.9M142.5 402.0h3.9M142.5 396.6h3.9M142.5 391.8h3.9M142.5 387.5h6.5M142.5 359.3h3.9M142.5 342.7h3.9M142.5 331.0h3.9M161.6 612.7v-3.9M177.1 612.7v-3.9M190.2 612.7v-3.9M201.5 612.7v-3.9M211.5 612.7v-3.9M220.5 612.7v-6.8M279.4 612.7v-3.9M313.9 612.7v-3.9M338.3 612.7v-3.9M357.3 612.7v-3.9M372.8 612.7v-3.9M385.9 612.7v-3.9M397.2 612.7v-3.9M407.2 612.7v-3.9M416.2 612.7v-6.8" stroke="#231f20" stroke-width="1.15" fill="none"/>
<rect x="142.5" y="321.9" width="299.0" height="290.8" fill="none" stroke="#231f20" stroke-width="1.35"/>
<text x="128.3" y="397.6" font-size="23" text-anchor="end">10<tspan font-size="16.5" dy="-12.6" dx="1.2">0</tspan></text>
<text x="128.3" y="490.1" font-size="23" text-anchor="end">10<tspan font-size="13.5" dy="-13.6" dx="1.0">−</tspan><tspan font-size="16.5" dy="1.0">1</tspan></text>
<text x="128.3" y="583.9" font-size="23" text-anchor="end">10<tspan font-size="13.5" dy="-13.6" dx="1.0">−</tspan><tspan font-size="16.5" dy="1.0">2</tspan></text>
<text transform="translate(149.4 363.8) scale(1.12 1.03)" font-size="38.5" font-weight="bold" stroke="#231f20" stroke-width="1.1">e</text>
<text transform="translate(68.0 467.3) rotate(-90) scale(1.02 1)" font-size="26.5" text-anchor="middle"><tspan font-style="italic">N</tspan><tspan font-size="18.4" dy="10.5">4<tspan font-style="italic">ω</tspan></tspan><tspan dy="-10.5"> (a.u.)</tspan></text>
<text x="225.3" y="593.7" font-size="26.8" font-style="italic">N</text><text x="245.7" y="602.0" font-size="18.6">4<tspan font-style="italic">ω</tspan></text><text transform="translate(275.1 591.5) scale(1.22 1)" font-size="24">∝</text><text x="299.3" y="593.7" font-size="26.8" font-style="italic">N</text><text x="319.7" y="581.1" font-size="18.4">4</text><text x="317.5" y="596.7" font-size="17.5" font-style="italic">ω</text>
<text x="198.2" y="650.0" font-size="23">10<tspan font-size="16.5" dy="-12.0" dx="3.6">0</tspan></text>
<text x="398.4" y="650.0" font-size="23">10<tspan font-size="16.5" dy="-12.0" dx="1.2">1</tspan></text>
<text transform="translate(186.0 690) scale(1.025 1)" font-size="26.5"><tspan font-style="italic">N</tspan><tspan font-size="18" dy="7" font-style="italic">ω</tspan><tspan dy="-7"> (TW cm</tspan><tspan font-size="17" dy="-13.5" dx="1">−2</tspan><tspan dy="13.5">)</tspan></text>
<g clip-path="url(#cp11)">
<path d="M659.8 616.7L659.7 616.3L659.9 615.9L660.7 615.7L660.0 614.9L660.2 614.3L660.8 613.9L660.9 613.2L661.6 612.6L661.6 611.8L661.4 610.9L661.6 610.0L662.0 609.2L662.9 608.5L663.0 607.5L662.5 606.3L663.5 605.5L663.6 604.3L664.3 603.3L664.2 601.9L664.3 600.7L665.3 599.6L665.9 598.3L666.1 597.0L666.8 595.7L666.9 594.3L666.9 592.8L667.8 591.7L667.8 590.2L668.0 588.8L668.6 587.5L669.8 586.4L669.9 584.9L670.7 583.7L670.9 582.2L671.4 580.8L671.1 579.2L672.2 577.9L672.5 576.5L673.4 575.2L673.2 573.5L674.4 572.4L674.9 570.9L674.9 569.3L675.7 568.0L676.0 566.5L676.8 565.2L677.5 563.9L677.5 562.2L678.6 561.0L678.3 559.3L679.4 558.1L679.8 556.7L680.4 555.4L681.3 554.2L681.9 552.9L681.6 551.3L682.1 550.0L682.7 548.8L683.7 547.8L684.1 546.5L684.4 545.2L684.1 543.8L684.5 542.5L685.5 541.5L685.9 540.3L686.4 539.1L686.9 537.9L686.8 536.4L687.7 535.3L688.7 534.2L688.5 532.7L689.4 531.6L689.5 530.1L690.2 528.9L691.0 527.8L691.6 526.6L691.7 525.1L692.7 524.1L692.9 522.7L694.1 521.8L694.3 520.5L694.6 519.2L694.9 517.9L695.7 516.9L695.8 515.5L696.6 514.5L696.5 513.1L696.8 511.9L697.7 510.8L698.5 509.8L698.1 508.2L698.8 507.1L699.2 505.8L699.6 504.5L700.2 503.3L700.7 502.0L701.2 500.7L702.4 499.7L702.5 498.2L703.4 497.0L703.5 495.5L704.3 494.3L705.4 493.3L705.7 491.8L706.5 490.7L706.8 489.3L707.2 488.0L708.2 487.0L709.0 485.9L709.2 484.5L709.9 483.5L710.1 482.2L710.3 480.9L710.8 479.7L711.2 478.4L711.4 477.0L711.8 475.7L712.8 474.6L713.0 473.1L712.9 471.6L713.8 470.5L713.8 469.1L715.3 468.3L715.0 466.9L715.4 465.7L716.2 464.8L716.7 464.0L716.1 462.8L716.4 462.1L717.2 461.7L717.0 460.8L718.0 460.6L717.6 459.7L718.7 459.8L719.2 459.5L719.1 458.8L718.9 458.0L720.2 458.1L720.3 457.2L720.0 456.0L721.2 455.5L720.9 453.9L722.0 453.1L722.6 451.8L723.1 450.5L723.8 449.2L724.9 448.0L726.0 446.8L726.6 445.3L727.0 443.6L728.8 442.9L729.1 441.1L729.3 439.3L731.4 438.8L731.7 437.1L732.1 435.6L733.3 434.5L734.3 433.3L734.5 431.5L736.2 430.8L737.4 429.7L737.5 427.7L739.0 426.8L739.1 424.8L740.7 424.0L741.7 422.7L743.2 421.8L743.3 419.8L745.1 419.3L745.4 417.4L747.5 417.2L747.3 414.8L748.8 414.0L749.7 412.6L751.1 411.7L752.1 410.5L753.8 409.9L755.1 409.0L756.0 407.6L757.0 406.2L758.8 405.9L760.1 404.9L760.8 403.3L761.7 401.9L763.4 401.6L764.5 400.5L765.5 399.1L767.7 399.5L768.9 398.6L769.9 397.3L771.2 396.4L772.8 396.1L774.2 395.3L775.3 394.2L777.0 393.8L778.0 392.4L779.6 391.6L781.6 391.7L783.2 390.9L784.4 389.6L785.9 388.5L787.9 388.5L789.7 388.1L791.3 387.4L792.5 385.6L794.5 385.8L795.7 384.2L797.4 383.7L799.1 383.2L800.9 382.9L802.2 381.7L803.9 381.2L805.1 379.8L806.6 379.1L808.1 378.2L809.8 377.7L811.2 376.7L813.1 376.8L814.5 375.8L815.6 373.9L817.2 373.3L818.9 373.0L820.4 371.9L822.0 371.5L823.8 371.3L825.1 370.1L826.4 368.4L828.3 368.9L829.9 368.4L831.4 367.5L833.0 367.3L834.4 365.8L835.8 364.3L837.4 364.2L839.2 364.5L840.7 363.5L842.1 361.7L844.0 362.6L845.7 362.0L847.5 361.1L849.3 360.7L851.1 360.0L852.9 358.8L854.9 360.2L856.5 358.2L858.2 358.0L859.8 356.6L861.5 359.4L862.9 358.0L864.1 357.3L865.2 357.2L866.3 358.5L867.1 355.5L868.0 355.2L869.0 357.5L869.7 356.9L870.4 357.3L871.0 357.1L871.6 358.0L872.1 357.5L872.6 356.7L872.8 357.8L873.0 357.8L873.0 354.8L872.7 355.0L872.7 358.0L873.4 390.5L872.9 389.0L872.2 390.7L871.7 390.4L871.5 389.3L871.4 390.3L871.5 390.1L871.5 392.2L871.5 388.0L871.4 389.5L871.1 387.9L870.7 387.8L870.2 387.7L869.7 389.5L868.7 387.6L867.7 388.7L866.6 391.2L864.9 387.1L863.7 390.0L862.0 386.6L860.5 388.1L859.1 389.9L857.2 387.0L855.8 388.6L854.0 386.8L852.4 386.7L851.2 388.8L849.4 385.7L847.9 385.4L846.6 385.7L845.4 387.2L843.9 387.0L842.6 387.7L840.9 386.8L839.6 387.4L838.1 387.2L836.3 386.1L834.6 385.7L833.1 385.7L831.4 385.5L830.0 386.1L828.3 385.8L826.7 385.9L825.4 386.7L824.1 387.7L822.1 386.5L820.8 387.7L819.0 387.3L817.4 387.7L816.1 388.7L814.6 389.4L813.0 389.8L811.4 390.2L810.0 391.0L808.1 391.0L806.7 391.8L805.2 392.4L803.6 393.1L802.0 393.5L800.7 394.9L798.9 395.0L797.6 396.5L795.8 396.7L794.7 398.2L793.2 399.2L791.6 399.6L790.0 400.2L788.5 400.9L787.5 402.5L786.2 403.3L784.5 403.5L783.4 404.6L782.0 405.1L781.3 406.8L779.9 407.3L778.9 408.3L778.0 409.5L776.7 409.9L775.7 410.9L774.3 411.3L773.4 412.3L772.1 412.9L770.9 413.5L770.5 415.3L768.7 415.2L768.0 416.6L766.6 417.1L765.7 418.2L765.2 419.8L764.6 421.2L762.6 421.1L762.6 423.2L760.7 423.3L759.4 424.1L759.7 426.3L758.3 427.0L757.2 428.0L756.5 429.3L754.5 429.5L754.2 431.2L753.0 432.0L752.3 433.3L750.8 434.0L750.8 435.9L749.4 436.7L749.0 438.2L748.1 439.4L746.3 440.0L745.7 441.4L745.5 443.1L744.2 444.0L743.3 445.1L742.7 446.5L741.5 447.5L741.2 449.0L739.4 449.6L739.0 451.2L737.8 452.3L737.2 453.7L736.1 454.8L735.2 456.0L734.1 457.1L734.0 458.7L733.1 459.7L732.2 460.7L731.3 461.6L730.9 462.6L731.2 464.0L730.2 464.4L730.1 465.2L729.1 465.3L729.2 466.0L728.8 466.2L728.6 466.5L728.2 466.6L728.3 467.0L727.8 467.1L728.5 467.9L727.5 468.1L727.1 468.6L726.9 469.4L727.2 470.5L725.8 471.0L725.9 472.2L724.7 473.1L724.7 474.4L725.1 476.0L724.0 477.1L723.0 478.2L723.1 479.8L722.3 481.0L722.4 482.7L721.0 483.7L720.1 485.0L719.5 486.3L719.8 488.0L718.7 489.0L718.0 490.3L717.9 491.9L716.9 492.9L715.9 494.0L714.9 495.1L714.4 496.4L713.7 497.5L713.1 498.8L712.3 499.8L712.4 501.3L711.8 502.4L710.7 503.3L710.8 504.7L710.4 505.9L709.5 506.9L709.2 508.2L708.3 509.2L708.5 510.6L707.8 511.7L707.7 513.0L706.9 514.1L706.9 515.6L706.2 516.7L705.8 518.0L705.3 519.3L704.6 520.5L704.2 521.8L703.7 523.1L703.0 524.3L702.3 525.4L701.7 526.7L701.6 528.1L700.7 529.2L699.9 530.3L699.6 531.6L699.1 532.9L698.5 534.0L698.1 535.3L697.6 536.5L696.5 537.4L696.1 538.6L695.9 539.9L695.9 541.3L694.5 542.1L694.2 543.4L694.2 544.7L693.5 545.8L693.5 547.2L692.6 548.2L692.6 549.6L691.7 550.7L691.6 552.1L691.3 553.5L689.9 554.5L689.8 555.9L689.7 557.4L688.6 558.6L688.5 560.1L687.3 561.3L687.1 562.8L686.0 564.0L686.4 565.7L685.0 566.8L684.5 568.2L684.1 569.6L684.2 571.2L683.7 572.6L682.6 573.7L682.7 575.3L682.1 576.7L681.5 578.0L681.0 579.4L680.1 580.6L680.2 582.2L679.6 583.5L679.3 585.0L678.0 586.1L678.0 587.6L677.8 589.0L677.4 590.4L676.2 591.5L675.8 592.8L675.8 594.2L675.3 595.5L674.7 596.8L674.7 598.2L674.2 599.5L673.3 600.6L673.0 601.9L672.7 603.2L673.0 604.7L672.6 605.8L672.0 606.9L672.0 608.1L671.6 609.1L670.6 609.9L671.0 611.0L670.0 611.7L669.7 612.5L669.5 613.3L670.0 614.3L669.1 614.9L669.3 615.7L668.7 616.2L668.4 616.8L668.8 617.5L668.5 618.0L668.8 618.6L668.7 619.0L668.4 619.3Z" fill="#fddcb6"/><path d="M664.0 618.0L664.2 617.5L664.3 616.9L664.6 616.1L664.8 615.3L665.1 614.4L665.4 613.4L665.7 612.4L666.0 611.2L666.4 610.0L666.8 608.7L667.2 607.3L667.7 605.8L668.2 604.2L668.7 602.5L669.2 600.8L669.8 599.0L670.3 597.1L670.9 595.3L671.5 593.4L672.1 591.6L672.7 589.8L673.3 587.9L673.9 586.0L674.6 584.0L675.2 582.1L675.9 580.1L676.5 578.2L677.2 576.2L677.9 574.2L678.6 572.3L679.3 570.4L680.1 568.4L680.8 566.4L681.6 564.5L682.4 562.5L683.1 560.6L683.9 558.6L684.7 556.7L685.4 554.8L686.1 553.0L686.8 551.2L687.4 549.4L688.1 547.7L688.7 546.0L689.3 544.3L689.9 542.6L690.5 540.9L691.2 539.2L691.8 537.5L692.5 535.8L693.2 534.1L693.9 532.4L694.7 530.6L695.5 528.9L696.2 527.2L697.0 525.5L697.8 523.8L698.5 522.0L699.3 520.3L700.0 518.6L700.7 516.9L701.3 515.2L702.0 513.5L702.6 511.8L703.2 510.1L703.8 508.3L704.4 506.6L705.1 504.9L705.8 503.2L706.5 501.5L707.3 499.8L708.1 498.1L709.0 496.3L709.9 494.6L710.8 492.9L711.6 491.2L712.5 489.5L713.4 487.7L714.2 486.0L715.0 484.3L715.7 482.5L716.5 480.7L717.2 478.8L717.8 477.0L718.5 475.1L719.2 473.3L719.8 471.6L720.4 469.9L720.9 468.4L721.5 467.1L722.0 466.0L722.4 465.1L722.8 464.4L723.1 463.8L723.4 463.3L723.7 462.8L724.1 462.2L724.6 461.5L725.1 460.6L725.8 459.5L726.6 458.2L727.5 456.7L728.5 455.0L729.5 453.3L730.6 451.5L731.8 449.6L732.9 447.8L734.1 445.9L735.3 444.1L736.5 442.3L737.7 440.6L738.9 438.8L740.1 437.1L741.4 435.3L742.7 433.6L744.0 431.8L745.3 430.1L746.7 428.4L748.0 426.7L749.4 425.1L750.8 423.5L752.2 421.9L753.7 420.3L755.1 418.8L756.6 417.3L758.1 415.8L759.7 414.3L761.2 412.9L762.8 411.5L764.4 410.1L766.0 408.8L767.6 407.5L769.2 406.3L770.9 405.1L772.5 403.9L774.2 402.8L776.0 401.7L777.8 400.5L779.6 399.4L781.5 398.3L783.5 397.2L785.5 396.1L787.6 394.9L789.8 393.8L792.0 392.8L794.2 391.7L796.4 390.6L798.6 389.6L800.8 388.6L803.0 387.6L805.2 386.6L807.3 385.7L809.5 384.8L811.6 383.9L813.8 383.0L815.9 382.1L818.1 381.3L820.2 380.5L822.4 379.7L824.5 379.0L826.6 378.3L828.8 377.7L830.9 377.0L833.1 376.5L835.2 375.9L837.3 375.4L839.5 374.9L841.6 374.4L843.8 374.0L845.9 373.6L848.1 373.2L850.4 372.9L852.8 372.7L855.3 372.4L857.6 372.2L859.9 372.0L862.1 371.9L864.1 371.7L865.9 371.6L867.4 371.5L868.6 371.4L869.6 371.3L870.4 371.3L871.1 371.3L871.5 371.3L871.9 371.3L872.2 371.3L872.5 371.3L872.7 371.3L873.0 371.3" stroke="#fba12b" stroke-width="7.0" stroke-linejoin="round" fill="none"/><path d="M839.3 370.5L840.1 370.8L841.1 370.1L842.4 369.9L843.8 369.7L845.4 370.5L846.7 369.2L848.2 369.8L849.3 368.3L850.4 368.1L851.4 367.6L852.7 368.8L853.6 368.2L854.6 367.6L855.5 367.3L856.5 366.9L857.4 366.1L858.4 366.8L859.5 367.9L860.3 367.4L861.1 365.8L862.0 366.7L862.8 364.9L863.8 367.0L864.7 365.8L865.7 365.4L866.8 365.4L867.9 363.9L869.2 366.1L870.2 364.1L871.2 363.8L872.1 365.2L872.6 363.6L873.4 378.6L872.6 376.3L871.8 377.2L870.8 377.1L869.7 377.1L868.6 377.3L867.4 376.7L866.3 377.4L865.4 378.7L864.4 376.3L863.5 376.5L862.7 377.6L861.9 378.2L861.1 378.7L860.2 376.5L859.5 378.6L858.6 378.7L857.6 377.1L856.8 378.4L855.7 377.0L854.6 376.3L853.8 377.2L852.8 377.3L851.6 376.7L850.7 378.1L849.3 376.9L848.0 377.1L846.5 377.4L845.3 378.7L843.8 378.3L842.3 377.2L841.3 377.6L840.4 377.4Z" fill="#fba12b"/><path d="M629.7 634.2L631.9 629.1M635.5 620.9L637.7 615.8M641.2 607.5L643.4 602.4M647.0 594.2L649.2 589.0M652.7 580.8L655.0 575.7M659.0 567.7L661.3 562.6M664.9 554.4L667.3 549.3M671.1 541.2L673.4 536.1M677.0 527.9L679.3 522.9M683.3 514.8L685.8 509.8M690.0 501.9L692.6 497.0M696.9 489.1L699.6 484.2M704.0 476.4L706.8 471.6M711.0 463.7L713.9 458.9M718.6 451.2L721.7 446.6M727.0 439.4L730.3 434.9M735.9 427.9L739.4 423.6M745.3 416.8L749.1 412.7M755.5 406.5L759.9 403.0M767.2 397.8L772.1 395.1M780.3 391.5L785.7 389.8M794.4 387.9L800.0 387.2M808.9 386.8L814.5 387.1M823.3 388.7L828.8 389.8M837.5 392.0L842.9 393.4M851.6 395.6L856.9 397.3M865.3 400.4L870.6 402.2M879.0 405.2L884.3 407.0M892.8 410.0L898.0 411.8" stroke="#f68b29" stroke-width="5.6" fill="none"/><path d="M745.3 408.2L744.4 410.5L743.2 413.5L741.7 417.1L740.1 421.1L738.4 425.3L736.7 429.6L735.0 433.7L733.4 437.6L731.9 441.4L730.3 445.3L728.7 449.2L727.1 453.1L725.6 456.9L724.1 460.6L722.7 464.0L721.5 467.1L720.4 469.8L719.5 472.3L718.8 474.5L718.0 476.5L717.3 478.4L716.6 480.3L715.9 482.2L715.0 484.3L714.0 486.5L713.0 488.6L711.9 490.8L710.8 492.9L709.6 495.1L708.5 497.2L707.5 499.4L706.5 501.5L705.6 503.6L704.8 505.8L704.0 507.9L703.2 510.1L702.4 512.2L701.6 514.3L700.8 516.5L700.0 518.6L699.1 520.7L698.2 522.9L697.2 525.0L696.2 527.2L695.3 529.3L694.3 531.5L693.4 533.6L692.5 535.8L691.7 537.9L690.8 540.1L690.1 542.2L689.3 544.3L688.5 546.4L687.8 548.6L686.9 550.7L686.1 553.0L685.2 555.3L684.3 557.7L683.3 560.1L682.4 562.5L681.4 565.0L680.4 567.4L679.5 569.9L678.6 572.3L677.7 574.7L676.9 577.2L676.0 579.6L675.2 582.1L674.4 584.5L673.6 586.9L672.8 589.3L672.1 591.6L671.4 593.9L670.6 596.2L669.9 598.5L669.2 600.8L668.6 603.0L667.9 605.0L667.3 607.0L666.8 608.7L666.3 610.3L665.9 611.8L665.4 613.2L665.1 614.4L664.7 615.5L664.4 616.5L664.2 617.3L664.0 618.0" stroke="#f68b29" stroke-width="4.8" stroke-dasharray="20 9.5" stroke-dashoffset="0" fill="none"/>
</g>
<path d="M569.6 603.3h3.9M569.6 595.9h3.9M569.6 589.6h3.9M569.6 584.2h3.9M569.6 579.4h3.9M569.6 575.1h6.5M569.6 546.9h3.9M569.6 530.3h3.9M569.6 518.6h3.9M569.6 509.5h3.9M569.6 502.1h3.9M569.6 495.8h3.9M569.6 490.4h3.9M569.6 485.6h3.9M569.6 481.3h6.5M569.6 453.1h3.9M569.6 436.5h3.9M569.6 424.8h3.9M569.6 415.7h3.9M569.6 408.3h3.9M569.6 402.0h3.9M569.6 396.6h3.9M569.6 391.8h3.9M569.6 387.5h6.5M569.6 359.3h3.9M569.6 342.7h3.9M569.6 331.0h3.9M588.7 612.7v-3.9M604.2 612.7v-3.9M617.3 612.7v-3.9M628.6 612.7v-3.9M638.6 612.7v-3.9M647.6 612.7v-6.8M706.5 612.7v-3.9M741.0 612.7v-3.9M765.4 612.7v-3.9M784.4 612.7v-3.9M799.9 612.7v-3.9M813.0 612.7v-3.9M824.3 612.7v-3.9M834.3 612.7v-3.9M843.3 612.7v-6.8" stroke="#231f20" stroke-width="1.15" fill="none"/>
<rect x="569.6" y="321.9" width="299.0" height="290.8" fill="none" stroke="#231f20" stroke-width="1.35"/>
<text x="556.6" y="397.5" font-size="23" text-anchor="end">10<tspan font-size="16.5" dy="-12.6" dx="1.2">0</tspan></text>
<text x="556.6" y="490.4" font-size="23" text-anchor="end">10<tspan font-size="13.5" dy="-13.6" dx="1.0">−</tspan><tspan font-size="16.5" dy="1.0">1</tspan></text>
<text x="556.6" y="584.3" font-size="23" text-anchor="end">10<tspan font-size="13.5" dy="-13.6" dx="1.0">−</tspan><tspan font-size="16.5" dy="1.0">2</tspan></text>
<text transform="translate(583.8 363.8) scale(1.12 1.03)" font-size="38.5" font-weight="bold" stroke="#231f20" stroke-width="1.1">f</text>
<text transform="translate(495.1 467.8) rotate(-90) scale(1.02 1)" font-size="26.5" text-anchor="middle"><tspan font-style="italic">N</tspan><tspan font-size="18.4" dy="10.5">5<tspan font-style="italic">ω</tspan>,</tspan><tspan dy="-10.5"> (a.u.)</tspan></text>
<text x="699.2" y="591.6" font-size="26.8" font-style="italic">N</text><text x="719.6" y="599.9" font-size="18.6">5<tspan font-style="italic">ω</tspan></text><text transform="translate(749.0 589.4) scale(1.22 1)" font-size="24">∝</text><text x="773.2" y="591.6" font-size="26.8" font-style="italic">N</text><text x="793.6" y="579.0" font-size="18.4">5</text><text x="791.4" y="594.6" font-size="17.5" font-style="italic">ω</text>
<text x="628.2" y="650.0" font-size="23">10<tspan font-size="16.5" dy="-12.0" dx="3.6">0</tspan></text>
<text x="824.5" y="650.0" font-size="23">10<tspan font-size="16.5" dy="-12.0" dx="1.2">1</tspan></text>
<text transform="translate(636.7 690) scale(1.025 1)" font-size="26.5"><tspan font-style="italic">N</tspan><tspan font-size="18" dy="7" font-style="italic">ω</tspan><tspan dy="-7"> (TW cm</tspan><tspan font-size="17" dy="-13.5" dx="1">−2</tspan><tspan dy="13.5">)</tspan></text>
<g clip-path="url(#cp12)">
<path d="M1027.2 619.2L1026.5 618.3L1027.6 618.4L1028.5 618.4L1028.0 617.3L1029.4 617.4L1029.8 616.8L1029.1 615.3L1029.0 614.2L1030.2 613.9L1031.7 613.7L1031.5 612.4L1032.7 612.1L1033.6 611.4L1033.5 610.0L1034.0 608.9L1034.7 608.0L1035.5 607.0L1035.2 605.2L1036.3 604.3L1038.2 603.8L1039.1 602.6L1039.1 600.6L1039.9 599.1L1040.7 597.4L1043.6 597.2L1042.9 594.4L1043.8 592.8L1046.7 592.4L1046.4 589.8L1048.9 589.1L1048.3 586.3L1051.1 585.8L1052.4 584.1L1052.2 581.4L1053.9 580.0L1055.8 578.8L1057.1 577.1L1058.3 575.4L1059.3 573.5L1058.9 570.8L1061.3 570.0L1062.6 568.4L1062.4 565.9L1065.0 565.2L1065.8 563.3L1065.7 560.9L1067.7 559.8L1069.2 558.4L1070.0 556.4L1070.8 554.6L1070.7 552.1L1072.5 550.9L1074.4 549.6L1074.0 547.0L1076.4 546.1L1076.4 543.7L1078.6 542.7L1078.3 540.1L1080.3 539.0L1082.2 537.8L1082.8 535.8L1083.9 534.2L1084.3 532.1L1086.2 531.0L1087.5 529.5L1087.6 527.2L1088.5 525.6L1089.0 523.6L1091.9 523.2L1092.1 521.0L1093.7 519.9L1094.0 517.8L1095.5 516.6L1095.3 514.2L1096.9 513.2L1099.1 512.4L1100.4 511.1L1100.2 508.6L1102.6 508.1L1102.9 505.9L1104.4 504.5L1106.1 503.3L1106.1 500.7L1107.3 499.1L1108.5 497.4L1110.6 496.4L1110.9 493.9L1113.2 493.0L1113.8 490.7L1115.6 489.4L1117.1 487.8L1119.6 486.9L1119.5 483.7L1121.6 482.4L1123.2 480.6L1125.3 479.4L1127.5 478.4L1129.1 476.9L1129.8 474.7L1130.8 473.0L1132.2 471.8L1134.0 471.3L1135.0 470.1L1136.3 469.3L1136.2 467.1L1138.0 467.0L1139.2 466.3L1140.4 465.7L1140.5 463.7L1141.4 462.6L1142.9 462.3L1144.7 462.2L1144.6 460.0L1145.9 459.4L1147.6 459.3L1148.4 458.1L1149.9 457.7L1150.4 456.1L1152.0 455.8L1152.2 453.6L1154.7 454.5L1154.9 452.1L1156.4 451.5L1158.2 451.5L1159.8 451.2L1160.6 449.5L1161.4 447.8L1163.7 448.3L1164.4 446.5L1165.8 445.6L1167.0 444.3L1168.6 443.6L1170.3 443.1L1172.4 443.1L1173.1 440.7L1175.2 440.6L1176.2 438.8L1177.8 437.9L1179.6 437.4L1180.4 435.4L1181.9 434.4L1184.4 435.0L1185.3 433.1L1187.1 432.6L1187.9 430.6L1189.4 429.5L1191.3 429.1L1192.7 428.0L1194.3 427.2L1196.4 427.1L1197.0 424.6L1199.0 424.6L1200.9 424.1L1201.8 422.1L1204.2 422.8L1205.2 420.9L1206.8 420.2L1207.9 418.7L1209.4 417.9L1211.3 418.1L1212.9 417.7L1213.9 416.2L1214.9 414.7L1216.1 413.8L1217.4 413.1L1219.5 414.0L1220.7 413.2L1221.6 411.8L1222.7 410.7L1224.5 411.4L1225.1 409.6L1226.9 410.7L1227.2 408.4L1228.7 409.0L1229.8 408.7L1230.8 408.2L1231.7 406.9L1233.2 408.1L1234.3 407.4L1235.6 406.7L1237.0 406.9L1238.3 405.4L1240.0 407.1L1241.5 407.4L1242.8 405.1L1244.4 405.9L1246.1 406.6L1247.6 404.2L1249.4 404.4L1251.3 406.1L1253.1 404.3L1255.2 405.2L1257.3 405.9L1259.5 405.7L1261.7 405.2L1263.9 404.0L1266.2 404.4L1268.4 403.7L1270.6 404.7L1272.7 402.9L1274.9 401.8L1277.2 401.4L1279.6 401.6L1282.0 400.6L1284.5 402.9L1286.8 403.1L1288.9 399.6L1291.0 402.6L1292.7 402.3L1294.2 399.2L1295.4 399.2L1296.5 401.2L1297.3 403.2L1297.9 399.5L1298.4 397.9L1298.9 400.4L1299.2 400.4L1299.5 402.1L1299.7 402.5L1299.9 400.0L1300.1 416.4L1299.8 413.7L1299.5 413.9L1299.3 417.3L1299.0 417.6L1298.6 414.1L1298.2 418.4L1297.5 414.5L1296.8 417.0L1295.8 414.0L1294.6 415.5L1293.0 413.7L1291.3 416.8L1289.3 413.7L1287.2 417.8L1284.9 417.2L1282.4 414.3L1280.1 416.3L1277.6 413.7L1275.3 415.1L1273.1 414.7L1270.9 415.0L1268.6 413.2L1266.4 414.1L1264.2 414.1L1261.9 413.2L1259.8 414.3L1257.7 415.0L1255.6 414.7L1253.6 413.7L1251.7 413.4L1249.9 412.8L1248.2 413.2L1246.7 414.8L1245.1 413.9L1243.8 415.7L1242.2 414.4L1240.9 414.6L1239.8 416.0L1238.3 414.7L1236.9 413.9L1235.9 415.3L1235.0 416.3L1233.9 415.7L1232.6 414.7L1232.0 416.2L1230.9 415.7L1230.2 416.8L1229.6 417.9L1228.6 418.4L1227.0 417.5L1226.0 418.4L1224.8 418.8L1223.9 419.8L1222.4 419.9L1220.7 419.5L1219.8 421.1L1218.8 422.2L1217.5 422.9L1215.4 422.4L1214.8 424.5L1212.7 423.9L1211.1 424.5L1209.6 425.2L1209.0 427.6L1207.1 427.8L1205.4 428.4L1204.6 430.5L1202.9 431.1L1201.7 432.4L1200.1 433.1L1198.4 433.6L1197.0 434.8L1194.8 434.5L1193.6 436.0L1192.5 437.6L1190.8 438.1L1189.7 439.8L1187.6 439.9L1186.4 441.4L1184.1 441.1L1183.5 443.5L1181.9 444.4L1180.1 444.9L1178.3 445.6L1176.6 446.2L1175.4 447.7L1173.6 448.1L1172.1 449.1L1171.7 451.6L1169.9 451.9L1168.2 452.3L1166.3 452.4L1165.2 453.7L1163.6 454.1L1162.5 455.2L1162.1 457.3L1160.5 457.7L1158.6 457.5L1157.4 458.3L1156.8 460.0L1156.3 461.5L1154.7 461.7L1153.5 462.4L1152.2 462.9L1151.1 463.6L1151.2 465.8L1150.1 466.5L1148.5 466.7L1147.2 467.2L1146.2 468.3L1146.0 470.1L1144.2 470.1L1143.6 471.4L1143.0 472.7L1141.7 473.1L1139.9 473.2L1139.7 475.0L1137.5 474.9L1137.8 477.6L1135.9 478.1L1134.1 479.0L1133.3 481.1L1132.1 482.8L1130.7 484.6L1128.7 485.8L1126.8 487.2L1126.1 489.7L1124.1 491.0L1122.6 492.6L1120.8 493.8L1119.7 495.7L1118.8 497.6L1117.7 499.4L1116.0 500.7L1115.2 502.6L1113.5 503.9L1112.7 505.8L1110.8 506.9L1110.4 509.1L1108.7 510.3L1107.4 511.7L1106.9 513.6L1105.7 515.0L1103.0 515.3L1103.0 517.5L1102.1 519.1L1101.5 520.8L1099.0 521.3L1098.4 523.1L1096.7 524.2L1096.1 526.1L1094.9 527.5L1094.0 529.2L1094.0 531.6L1091.7 532.3L1091.7 534.6L1089.7 535.6L1089.7 538.0L1088.4 539.5L1087.9 541.4L1085.1 542.0L1085.0 544.3L1084.7 546.4L1083.6 548.1L1081.0 548.9L1081.2 551.5L1078.8 552.4L1079.2 555.0L1077.3 556.3L1076.2 557.9L1075.4 559.8L1074.3 561.5L1072.3 562.6L1071.7 564.6L1070.5 566.2L1070.9 568.9L1069.2 570.2L1067.6 571.6L1067.4 573.9L1066.1 575.6L1063.9 576.6L1063.0 578.6L1062.3 580.6L1061.2 582.5L1059.5 583.9L1057.7 585.3L1056.3 586.8L1055.5 588.8L1055.3 591.2L1053.4 592.2L1052.1 593.7L1051.7 595.8L1050.2 597.1L1049.2 598.8L1047.7 600.0L1047.9 602.4L1046.0 603.2L1045.0 604.7L1043.4 605.6L1042.9 607.1L1043.0 608.9L1042.7 610.5L1040.6 610.6L1040.6 612.1L1039.8 613.1L1039.6 614.3L1038.2 614.7L1037.2 615.2L1036.3 615.8L1035.7 616.5L1036.3 618.0L1036.5 619.2L1034.2 618.7L1035.3 620.3L1033.9 620.3L1034.5 621.5L1033.7 621.7L1033.5 622.2L1033.0 622.5L1033.0 622.9Z" fill="#b3bce4"/><path d="M1260.7 398.5V423.0M1272.9 401.5V418.5M1285.8 397.0V419.0M1246.5 403.0V417.0M1290.5 395.0V422.0M1297.0 394.0V424.0M1279.0 400.0V419.0" stroke="#b3bce4" stroke-width="1.4" fill="none"/><path d="M1030.0 621.0L1030.2 620.7L1030.5 620.3L1030.8 619.8L1031.1 619.3L1031.5 618.7L1031.9 618.1L1032.3 617.4L1032.8 616.7L1033.3 616.0L1033.8 615.2L1034.3 614.4L1034.9 613.6L1035.5 612.7L1036.1 611.9L1036.8 610.9L1037.5 609.9L1038.2 608.9L1039.0 607.8L1039.8 606.7L1040.6 605.5L1041.5 604.2L1042.4 602.9L1043.4 601.5L1044.4 600.0L1045.4 598.5L1046.5 596.9L1047.6 595.3L1048.7 593.7L1049.8 592.1L1050.9 590.5L1052.0 588.9L1053.2 587.2L1054.4 585.5L1055.6 583.8L1056.8 582.0L1058.0 580.3L1059.2 578.5L1060.4 576.8L1061.6 575.0L1062.7 573.3L1063.8 571.6L1064.9 569.9L1066.0 568.2L1067.1 566.5L1068.1 564.7L1069.2 563.0L1070.2 561.3L1071.3 559.6L1072.3 557.9L1073.4 556.2L1074.5 554.5L1075.5 552.7L1076.6 551.0L1077.7 549.3L1078.8 547.5L1079.8 545.8L1080.9 544.1L1082.0 542.4L1083.0 540.7L1084.1 539.0L1085.2 537.3L1086.2 535.7L1087.3 534.1L1088.4 532.4L1089.4 530.8L1090.5 529.2L1091.6 527.6L1092.7 526.0L1093.7 524.5L1094.8 522.9L1095.9 521.4L1096.9 519.8L1098.0 518.4L1099.0 516.9L1100.1 515.4L1101.1 513.9L1102.2 512.4L1103.3 511.0L1104.4 509.4L1105.6 507.9L1106.8 506.3L1108.0 504.8L1109.2 503.2L1110.5 501.5L1111.7 499.9L1113.0 498.3L1114.3 496.7L1115.7 495.0L1117.0 493.4L1118.4 491.8L1119.8 490.2L1121.3 488.5L1122.9 486.8L1124.5 485.1L1126.1 483.4L1127.7 481.7L1129.2 480.1L1130.7 478.5L1132.2 477.1L1133.5 475.7L1134.7 474.5L1135.9 473.3L1137.0 472.3L1138.1 471.3L1139.1 470.3L1140.1 469.4L1141.1 468.6L1142.1 467.7L1143.1 466.8L1144.2 465.9L1145.3 465.0L1146.3 464.1L1147.3 463.2L1148.4 462.4L1149.4 461.5L1150.5 460.7L1151.5 459.8L1152.6 459.0L1153.7 458.2L1154.9 457.3L1156.1 456.4L1157.3 455.6L1158.5 454.8L1159.8 453.9L1161.1 453.1L1162.4 452.2L1163.7 451.4L1165.1 450.5L1166.4 449.6L1167.8 448.7L1169.2 447.8L1170.7 446.8L1172.1 445.9L1173.6 444.9L1175.2 444.0L1176.7 443.0L1178.2 442.0L1179.8 441.0L1181.3 440.1L1182.8 439.1L1184.3 438.1L1185.8 437.1L1187.3 436.2L1188.8 435.2L1190.3 434.2L1191.8 433.2L1193.3 432.2L1194.8 431.3L1196.3 430.3L1197.8 429.4L1199.3 428.5L1200.8 427.6L1202.4 426.7L1203.9 425.8L1205.4 424.9L1207.0 424.0L1208.5 423.2L1209.9 422.4L1211.4 421.6L1212.8 420.8L1214.2 420.1L1215.5 419.3L1216.9 418.6L1218.2 417.9L1219.5 417.3L1220.8 416.6L1222.1 416.0L1223.3 415.4L1224.5 414.9L1225.7 414.4L1226.8 413.9L1227.9 413.5L1228.9 413.2L1229.9 412.8L1230.9 412.5L1231.9 412.2L1232.9 411.9L1234.0 411.7L1235.2 411.4L1236.4 411.2L1237.7 411.0L1239.0 410.8L1240.4 410.6L1241.8 410.4L1243.3 410.3L1244.8 410.2L1246.4 410.0L1248.0 409.9L1249.7 409.8L1251.5 409.7L1253.4 409.6L1255.4 409.5L1257.5 409.4L1259.6 409.4L1261.8 409.3L1264.0 409.2L1266.3 409.2L1268.5 409.1L1270.7 409.1L1272.9 409.0L1275.1 408.9L1277.4 408.9L1279.8 408.8L1282.3 408.7L1284.6 408.7L1286.9 408.6L1289.1 408.5L1291.1 408.5L1292.9 408.4L1294.4 408.4L1295.6 408.4L1296.6 408.3L1297.4 408.3L1298.1 408.3L1298.5 408.3L1298.9 408.3L1299.2 408.3L1299.5 408.3L1299.7 408.3L1300.0 408.3" stroke="#1f57a9" stroke-width="5.8" stroke-linejoin="round" fill="none"/><path d="M1261.9 406.9L1262.9 406.2L1264.3 406.8L1266.0 406.8L1267.8 405.8L1269.7 406.0L1271.6 406.3L1273.3 405.3L1274.9 406.5L1276.3 406.2L1277.7 404.9L1279.0 404.8L1280.2 404.4L1281.5 405.5L1282.7 405.0L1283.8 404.7L1284.9 405.0L1285.9 405.0L1286.8 403.8L1287.6 403.3L1288.5 404.1L1289.3 404.9L1290.1 404.1L1291.0 404.5L1291.9 404.3L1292.9 403.3L1294.0 404.4L1295.2 404.1L1296.3 404.1L1297.4 404.4L1298.4 402.0L1299.2 402.6L1299.9 404.3L1300.1 412.6L1299.5 414.6L1298.7 413.2L1297.7 413.8L1296.6 413.1L1295.4 412.8L1294.2 413.4L1293.1 413.1L1292.1 413.2L1291.2 413.3L1290.4 412.4L1289.6 413.5L1288.8 413.6L1287.9 413.3L1287.1 413.5L1286.1 412.0L1285.1 412.6L1284.0 412.5L1282.9 413.1L1281.7 413.2L1280.5 413.0L1279.2 412.8L1277.9 412.9L1276.5 413.0L1275.1 411.9L1273.5 412.5L1271.8 412.2L1269.9 411.8L1268.0 411.7L1266.1 411.9L1264.5 411.9L1263.1 412.8L1262.1 412.6Z" fill="#1f57a9"/><path d="M1036.8 632.6L1038.8 627.4M1042.0 619.1L1044.0 613.9M1047.2 605.6L1049.2 600.3M1052.4 592.0L1054.5 586.8M1057.8 578.6L1060.0 573.4M1063.7 565.3L1065.9 560.2M1069.3 551.9L1071.4 546.8M1074.9 538.6L1077.2 533.5M1081.0 525.4L1083.4 520.4M1087.1 512.3L1089.6 507.2M1093.5 499.3L1096.1 494.3M1100.1 486.4L1102.9 481.5M1107.4 473.8L1110.2 469.0M1114.3 461.1L1117.2 456.3M1122.0 448.8L1125.1 444.1M1130.2 436.8L1133.6 432.4M1139.2 425.4L1142.8 421.2M1148.8 414.6L1152.8 410.7M1159.6 404.9L1164.2 401.7M1172.0 397.4L1177.1 395.2M1185.6 392.4L1191.0 391.1M1199.8 389.8L1205.4 389.5M1214.3 389.7L1219.8 390.8M1228.2 393.9L1232.8 397.0M1239.0 403.4L1242.7 407.7M1247.7 415.0L1251.2 419.4M1257.0 426.1L1261.4 429.6M1268.9 434.6L1274.5 435.0M1282.8 431.7L1287.6 428.7M1293.6 422.1L1297.6 418.2M1304.1 412.1L1308.2 408.2" stroke="#27357b" stroke-width="5.6" fill="none"/><path d="M1147.4 444.4L1136.4 461.1M1130.9 469.5L1119.9 486.2M1114.5 494.5L1103.5 511.3M1098.0 519.6L1087.0 536.3M1081.5 544.7L1070.5 561.4M1065.0 569.8L1054.1 586.5M1048.6 594.8L1037.6 611.5M1032.1 619.9L1029.3 624.1" stroke="#27357b" stroke-width="6.0" fill="none"/>
</g>
<path d="M996.8 603.3h3.9M996.8 595.9h3.9M996.8 589.6h3.9M996.8 584.2h3.9M996.8 579.4h3.9M996.8 575.1h6.5M996.8 546.9h3.9M996.8 530.3h3.9M996.8 518.6h3.9M996.8 509.5h3.9M996.8 502.1h3.9M996.8 495.8h3.9M996.8 490.4h3.9M996.8 485.6h3.9M996.8 481.3h6.5M996.8 453.1h3.9M996.8 436.5h3.9M996.8 424.8h3.9M996.8 415.7h3.9M996.8 408.3h3.9M996.8 402.0h3.9M996.8 396.6h3.9M996.8 391.8h3.9M996.8 387.5h6.5M996.8 359.3h3.9M996.8 342.7h3.9M996.8 331.0h3.9M1015.9 612.7v-3.9M1031.4 612.7v-3.9M1044.5 612.7v-3.9M1055.8 612.7v-3.9M1065.8 612.7v-3.9M1074.8 612.7v-6.8M1133.7 612.7v-3.9M1168.2 612.7v-3.9M1192.6 612.7v-3.9M1211.6 612.7v-3.9M1227.1 612.7v-3.9M1240.2 612.7v-3.9M1251.5 612.7v-3.9M1261.5 612.7v-3.9M1270.5 612.7v-6.8" stroke="#231f20" stroke-width="1.15" fill="none"/>
<rect x="996.8" y="321.9" width="299.0" height="290.8" fill="none" stroke="#231f20" stroke-width="1.35"/>
<text x="981.6" y="400.6" font-size="23" text-anchor="end">10<tspan font-size="16.5" dy="-12.6" dx="1.2">0</tspan></text>
<text x="981.6" y="491.4" font-size="23" text-anchor="end">10<tspan font-size="13.5" dy="-13.6" dx="1.0">−</tspan><tspan font-size="16.5" dy="1.0">1</tspan></text>
<text x="981.6" y="587.1" font-size="23" text-anchor="end">10<tspan font-size="13.5" dy="-13.6" dx="1.0">−</tspan><tspan font-size="16.5" dy="1.0">2</tspan></text>
<text transform="translate(1008.9 364.0) scale(1.12 1.03)" font-size="38.5" font-weight="bold" stroke="#231f20" stroke-width="1.1">g</text>
<text transform="translate(922.3 477.6) rotate(-90) scale(1.02 1)" font-size="26.5" text-anchor="middle"><tspan font-style="italic">N</tspan><tspan font-size="18.4" dy="10.5">6<tspan font-style="italic">ω</tspan></tspan><tspan dy="-10.5"> (a.u.)</tspan></text>
<text x="1090.4" y="595.9" font-size="26.8" font-style="italic">N</text><text x="1110.8" y="604.2" font-size="18.6">6<tspan font-style="italic">ω</tspan></text><text transform="translate(1140.2 593.7) scale(1.22 1)" font-size="24">∝</text><text x="1164.4" y="595.9" font-size="26.8" font-style="italic">N</text><text x="1184.8" y="583.3" font-size="18.4" textLength="68.8" lengthAdjust="spacingAndGlyphs">3.1 ± 0.1</text><text x="1182.6" y="598.9" font-size="17.5" font-style="italic">ω</text>
<text x="1056.2" y="650.0" font-size="23">10<tspan font-size="16.5" dy="-12.0" dx="3.6">0</tspan></text>
<text x="1254.5" y="650.0" font-size="23">10<tspan font-size="16.5" dy="-12.0" dx="1.2">1</tspan></text>
<text transform="translate(1063.7 690) scale(1.025 1)" font-size="26.5"><tspan font-style="italic">N</tspan><tspan font-size="18" dy="7" font-style="italic">ω</tspan><tspan dy="-7"> (TW cm</tspan><tspan font-size="17" dy="-13.5" dx="1">−2</tspan><tspan dy="13.5">)</tspan></text>
<g clip-path="url(#cp13)">
<path d="M1452.1 620.8L1451.9 620.3L1452.2 620.1L1453.0 620.0L1453.3 619.6L1453.5 619.2L1453.4 618.4L1454.0 618.2L1453.7 617.3L1454.1 616.8L1453.9 615.9L1454.4 615.5L1455.6 615.4L1455.7 614.8L1456.2 614.3L1456.0 613.5L1456.4 613.1L1457.2 613.0L1456.7 612.1L1457.4 612.0L1457.5 611.6L1457.3 611.0L1458.1 611.1L1458.0 610.5L1458.0 610.0L1457.9 609.5L1458.9 609.5L1459.5 609.3L1459.9 608.8L1459.4 607.7L1459.6 607.0L1460.3 606.4L1461.0 605.7L1461.2 604.6L1462.3 603.9L1463.4 603.2L1463.4 601.7L1463.9 600.4L1465.2 599.5L1466.4 598.5L1467.1 597.1L1468.0 595.9L1468.8 594.5L1469.3 592.9L1470.6 591.8L1470.9 590.0L1471.4 588.4L1472.9 587.4L1473.7 585.9L1473.8 584.1L1475.7 583.2L1476.5 581.7L1477.0 579.9L1478.6 578.8L1479.1 576.9L1479.3 574.9L1480.8 573.7L1481.6 571.9L1482.3 570.2L1483.3 568.6L1484.8 567.3L1486.2 565.9L1487.2 564.3L1487.9 562.6L1488.7 561.0L1490.1 559.7L1490.9 558.0L1491.9 556.6L1492.1 554.6L1493.4 553.4L1494.2 551.8L1494.5 549.9L1495.9 548.6L1497.3 547.4L1497.9 545.6L1498.2 543.7L1500.2 542.7L1500.5 540.8L1501.5 539.1L1502.5 537.5L1503.0 535.5L1504.8 534.2L1506.0 532.4L1506.7 530.3L1508.1 528.4L1508.6 526.1L1509.7 524.1L1510.9 522.1L1512.8 520.4L1513.9 518.3L1515.4 516.6L1516.2 514.5L1516.5 512.1L1517.6 510.3L1518.6 508.5L1520.5 507.5L1521.4 505.9L1521.7 504.2L1522.3 502.7L1523.3 501.6L1524.7 500.9L1524.4 499.1L1525.2 498.2L1526.6 497.7L1527.0 496.6L1526.8 495.1L1528.2 494.7L1528.4 493.5L1529.7 493.1L1529.4 491.5L1530.9 491.3L1530.5 489.6L1532.0 489.2L1533.0 488.5L1532.6 486.6L1533.9 486.1L1534.8 485.2L1535.0 483.8L1536.5 483.4L1537.3 482.5L1538.0 481.5L1538.9 480.8L1539.3 479.6L1539.7 478.4L1540.7 477.7L1541.2 476.8L1541.8 476.0L1542.6 475.3L1543.8 475.1L1544.1 474.1L1543.9 472.7L1545.0 472.6L1545.2 471.6L1546.3 471.6L1546.6 470.8L1546.3 469.4L1547.1 469.1L1547.0 468.1L1547.9 467.9L1548.6 467.5L1549.1 467.0L1549.6 466.4L1549.7 465.5L1549.9 464.5L1551.0 464.5L1551.1 463.4L1552.8 464.0L1553.4 463.5L1553.9 462.9L1553.4 461.1L1554.9 461.6L1554.7 460.2L1554.9 459.2L1556.6 459.8L1556.9 458.9L1556.5 457.2L1558.4 458.2L1558.4 457.0L1559.5 457.1L1559.3 455.5L1560.1 455.3L1561.6 455.8L1561.2 454.0L1562.7 454.7L1562.1 452.7L1563.8 453.7L1564.5 453.4L1564.7 452.4L1565.0 451.6L1565.0 450.2L1566.6 451.3L1566.5 449.9L1567.9 450.6L1567.5 448.7L1569.0 449.8L1568.7 448.0L1570.2 448.9L1570.8 448.5L1570.8 447.1L1571.2 446.4L1572.3 446.7L1572.5 445.6L1573.7 446.3L1574.4 446.1L1574.6 445.0L1574.5 443.3L1575.5 443.7L1576.3 443.7L1577.1 443.5L1576.9 441.8L1578.4 442.9L1577.7 440.4L1578.6 440.2L1579.8 440.7L1580.7 440.5L1580.8 439.2L1582.2 439.6L1582.2 438.1L1583.5 438.4L1584.9 438.9L1585.6 438.3L1586.1 437.3L1587.2 437.2L1586.4 434.4L1588.3 435.6L1589.1 435.0L1590.2 434.8L1590.7 434.0L1590.1 431.3L1592.3 433.0L1592.9 432.2L1594.3 432.6L1594.2 430.7L1595.5 430.9L1596.7 431.0L1597.3 430.2L1598.2 429.8L1598.5 428.4L1598.7 427.0L1599.2 425.9L1600.1 425.5L1601.5 426.0L1601.1 423.5L1602.5 423.8L1604.7 425.4L1603.8 422.1L1605.0 422.1L1607.0 423.5L1607.1 421.7L1607.3 420.2L1608.6 420.5L1609.2 419.6L1610.8 420.7L1611.8 420.5L1612.6 420.1L1612.4 418.1L1613.0 417.4L1614.0 417.4L1614.0 415.8L1615.4 416.3L1615.7 415.3L1616.2 414.5L1618.5 416.2L1617.6 413.5L1618.3 412.9L1619.7 413.1L1620.4 412.5L1620.5 411.0L1621.6 410.8L1623.6 411.8L1622.8 409.2L1624.1 409.1L1626.1 410.1L1625.4 407.4L1626.2 406.8L1627.4 406.6L1628.3 406.2L1628.0 404.1L1628.5 403.3L1631.7 405.9L1630.3 402.6L1632.0 403.2L1633.4 403.3L1634.2 402.7L1635.2 402.3L1633.9 398.8L1635.0 398.6L1635.7 397.7L1638.3 399.3L1638.5 397.7L1640.7 398.7L1640.5 396.4L1642.2 396.8L1642.7 395.5L1644.4 396.1L1643.4 392.3L1644.1 391.3L1645.2 390.7L1647.4 392.1L1646.9 389.0L1649.4 390.8L1650.6 390.5L1652.0 390.6L1652.6 389.2L1653.7 388.8L1654.2 387.1L1655.5 387.0L1655.5 384.2L1657.1 384.7L1657.5 382.8L1659.0 383.2L1660.0 382.6L1661.0 381.9L1662.8 383.6L1662.7 380.0L1664.5 381.7L1665.9 382.0L1665.7 378.2L1667.3 379.3L1668.5 379.3L1670.2 380.8L1671.1 380.2L1671.7 378.2L1672.2 375.6L1674.0 377.5L1675.6 378.5L1676.6 377.2L1677.9 377.4L1678.8 375.1L1679.8 373.6L1681.3 375.2L1682.5 375.0L1684.0 376.6L1684.2 370.6L1685.7 373.1L1686.4 370.5L1688.0 373.9L1688.8 372.7L1689.1 368.7L1690.0 368.8L1692.0 374.0L1691.8 367.8L1693.2 369.5L1694.4 370.4L1694.8 366.9L1695.5 365.4L1697.5 371.2L1697.8 367.8L1698.0 364.3L1699.2 366.0L1700.2 367.0L1701.7 369.8L1702.0 367.9L1701.9 364.3L1703.5 368.0L1703.0 363.5L1704.6 367.4L1704.1 363.6L1704.9 364.3L1704.8 362.1L1706.3 364.1L1704.9 358.1L1705.7 358.2L1708.4 363.2L1706.6 356.4L1709.5 361.5L1709.5 359.3L1710.4 359.5L1710.1 356.7L1712.4 360.2L1712.6 358.7L1712.0 355.0L1712.2 353.5L1713.7 355.8L1712.2 351.2L1712.9 352.3L1715.3 357.8L1715.1 356.9L1714.3 354.8L1715.4 357.3L1713.4 353.0L1715.6 357.9L1715.3 357.1L1715.6 357.7L1716.0 358.4L1712.3 350.2L1713.4 351.5L1712.9 349.2L1716.5 356.4L1743.0 416.7L1739.6 408.6L1744.0 417.0L1743.5 415.2L1740.4 408.8L1738.1 404.4L1743.4 416.2L1739.4 408.8L1742.2 415.9L1738.5 409.2L1736.7 406.3L1740.3 416.0L1738.6 413.6L1735.2 407.0L1735.0 408.0L1733.8 406.6L1735.8 413.1L1732.7 406.4L1733.2 408.9L1730.6 404.2L1734.1 414.6L1730.0 406.8L1730.9 411.5L1726.8 404.1L1728.7 411.7L1725.5 406.6L1725.2 409.1L1724.6 410.9L1722.5 408.9L1719.5 404.3L1718.9 406.5L1718.6 410.2L1715.6 405.1L1716.0 411.3L1713.5 406.8L1712.4 407.3L1712.5 413.1L1710.9 411.6L1709.2 409.3L1708.5 411.0L1707.2 410.5L1706.0 409.9L1704.0 405.1L1703.2 405.8L1703.1 410.8L1702.2 411.2L1699.7 403.4L1699.4 407.1L1698.8 408.9L1696.5 403.4L1696.4 409.7L1694.6 406.6L1693.2 405.0L1692.0 404.7L1691.3 407.7L1689.6 404.0L1688.7 405.0L1687.7 405.4L1686.9 406.6L1685.8 405.8L1685.5 408.9L1683.7 404.7L1682.6 403.7L1681.7 403.7L1681.0 404.0L1681.6 409.3L1679.3 404.7L1679.7 408.9L1677.5 404.6L1677.1 406.1L1676.1 405.7L1675.1 405.7L1675.3 408.5L1673.7 406.5L1672.4 405.5L1671.4 405.3L1671.9 408.7L1670.7 407.9L1668.9 406.1L1669.2 408.9L1669.3 411.0L1668.2 410.7L1667.7 411.7L1665.0 408.2L1664.3 408.9L1665.0 412.4L1663.9 412.3L1661.0 409.0L1661.0 411.1L1660.5 412.2L1659.1 411.7L1657.9 411.7L1658.1 413.9L1655.6 411.9L1656.4 414.9L1655.7 415.7L1653.6 414.1L1652.7 414.3L1652.4 415.5L1650.4 414.1L1652.0 417.8L1650.7 417.5L1649.4 417.3L1647.6 416.4L1647.8 418.3L1647.2 419.0L1647.4 420.8L1644.7 419.1L1645.7 422.0L1643.5 420.8L1643.9 423.0L1641.1 421.2L1640.0 421.5L1640.0 423.2L1638.8 423.2L1639.0 425.1L1637.1 424.3L1635.6 424.0L1635.5 425.6L1634.6 426.0L1633.3 426.1L1633.8 428.4L1633.1 429.3L1631.5 428.9L1632.1 431.5L1629.3 429.6L1628.6 430.4L1627.7 431.0L1626.4 430.9L1626.5 433.1L1626.0 434.3L1623.5 432.4L1624.1 435.2L1623.1 435.5L1622.6 436.7L1620.8 435.6L1619.3 435.0L1619.8 437.6L1619.3 438.7L1618.4 439.0L1617.6 439.4L1616.2 438.8L1616.0 440.2L1614.9 440.0L1614.5 441.1L1613.3 441.0L1611.5 439.9L1611.1 440.9L1611.4 443.1L1610.1 442.9L1609.1 443.0L1607.6 442.6L1606.4 442.4L1606.3 444.1L1605.2 444.2L1604.9 445.4L1604.1 445.9L1603.0 446.0L1602.1 446.5L1602.5 448.8L1600.8 448.0L1600.8 449.7L1599.0 448.7L1598.2 449.2L1597.0 449.0L1597.0 450.8L1596.5 451.8L1594.4 450.2L1594.6 452.4L1592.7 451.1L1592.3 452.2L1592.0 453.5L1591.6 454.5L1591.0 455.4L1589.4 454.4L1589.2 455.8L1587.8 455.1L1586.4 454.6L1586.3 456.0L1585.7 456.6L1584.2 455.4L1583.5 455.8L1583.1 456.6L1582.6 457.2L1582.0 457.6L1581.2 457.6L1580.5 457.8L1580.0 458.3L1579.3 458.4L1580.0 460.8L1578.4 459.5L1578.7 461.2L1578.1 461.4L1577.4 461.6L1577.0 462.3L1575.5 461.3L1574.3 460.7L1574.7 462.6L1574.5 463.5L1572.9 462.2L1573.3 464.0L1571.5 462.5L1572.0 464.3L1570.6 463.5L1571.1 465.3L1570.6 465.7L1569.3 465.0L1568.5 464.9L1568.1 465.5L1566.9 465.0L1566.8 466.0L1566.2 466.5L1565.8 467.1L1565.8 468.2L1564.7 468.0L1564.8 469.3L1564.3 469.8L1562.4 468.7L1562.7 470.2L1562.4 471.0L1561.5 471.0L1560.2 470.8L1560.0 471.6L1558.9 471.5L1559.6 473.3L1558.0 472.7L1558.4 474.1L1558.0 474.6L1556.9 474.5L1556.6 475.1L1555.8 475.3L1555.3 475.7L1555.2 476.6L1554.3 476.7L1553.5 476.9L1553.4 477.8L1553.2 478.7L1552.2 478.9L1551.7 479.5L1550.9 480.1L1550.7 481.1L1549.2 481.1L1548.2 481.6L1548.2 483.0L1548.0 484.2L1547.2 485.0L1545.8 485.3L1545.7 486.6L1544.2 486.9L1543.7 487.9L1542.5 488.4L1541.6 489.2L1541.7 490.8L1541.0 491.7L1539.8 492.3L1538.3 492.5L1538.3 494.0L1537.7 494.9L1537.2 496.0L1536.5 496.8L1535.1 497.0L1534.5 497.8L1534.8 499.3L1533.5 499.7L1533.4 500.9L1532.7 501.8L1531.7 502.5L1531.4 503.7L1530.6 504.7L1530.0 505.9L1528.8 506.8L1528.5 508.4L1526.8 509.3L1525.9 510.8L1525.1 512.5L1524.9 514.6L1523.1 516.0L1522.4 518.0L1520.7 519.7L1519.3 521.5L1518.7 523.8L1517.8 526.0L1516.8 528.1L1515.8 530.3L1513.7 531.7L1513.3 534.1L1512.2 536.0L1510.6 537.6L1509.9 539.6L1509.3 541.5L1507.1 542.5L1506.3 544.2L1506.3 546.4L1504.4 547.4L1503.6 549.0L1502.5 550.5L1502.0 552.3L1501.7 554.2L1499.7 555.1L1499.1 556.8L1497.9 558.1L1497.9 560.2L1496.4 561.4L1495.2 562.7L1494.1 564.2L1493.3 565.9L1492.3 567.4L1492.0 569.4L1490.8 570.8L1490.3 572.8L1489.3 574.4L1487.4 575.4L1487.2 577.5L1486.3 579.1L1485.2 580.6L1484.1 582.1L1483.0 583.5L1482.3 585.2L1481.1 586.5L1480.1 587.9L1480.1 589.9L1478.7 590.9L1478.4 592.7L1477.5 594.1L1476.1 595.2L1475.8 596.9L1474.1 597.8L1473.9 599.6L1472.3 600.4L1471.9 602.0L1471.4 603.4L1470.1 604.3L1470.3 606.0L1469.2 606.9L1468.5 607.9L1468.3 609.1L1467.1 609.6L1466.8 610.5L1466.0 611.0L1465.9 611.8L1465.6 612.5L1465.1 612.8L1465.1 613.5L1464.1 613.4L1464.1 613.9L1464.6 614.7L1464.0 614.8L1463.9 615.2L1463.3 615.2L1463.4 615.8L1463.0 616.0L1462.5 616.2L1462.0 616.6L1462.1 617.3L1462.1 617.9L1462.1 618.6L1460.9 618.6L1460.8 619.3L1460.1 619.6L1460.2 620.4L1460.6 621.4L1459.4 621.4L1459.9 622.3L1458.7 622.2L1458.8 622.9L1458.7 623.4L1458.3 623.7L1457.7 623.8L1457.7 624.1Z" fill="#c8bce0"/><path d="M1681.1 370.0V421.0M1698.2 366.0V420.0M1703.2 364.0V424.0M1709.2 360.0V425.0M1714.2 358.0V444.0M1716.2 352.0V468.0M1719.0 356.0V436.0M1721.8 354.0V430.0M1690.0 372.0V414.0M1672.0 380.0V410.0" stroke="#c8bce0" stroke-width="1.6" fill="none"/><path d="M1455.0 622.5L1455.3 622.1L1455.6 621.5L1456.0 620.8L1456.5 620.0L1457.0 619.2L1457.5 618.3L1458.0 617.5L1458.5 616.6L1459.0 615.8L1459.5 615.0L1459.9 614.3L1460.3 613.7L1460.6 613.2L1461.0 612.7L1461.3 612.1L1461.7 611.5L1462.1 610.8L1462.7 610.0L1463.3 608.9L1464.1 607.7L1465.0 606.2L1466.1 604.6L1467.2 602.8L1468.4 600.9L1469.7 598.8L1471.0 596.7L1472.4 594.5L1473.8 592.2L1475.2 590.0L1476.6 587.7L1478.0 585.4L1479.4 583.0L1480.9 580.6L1482.4 578.1L1483.9 575.5L1485.5 572.9L1487.0 570.4L1488.6 567.8L1490.1 565.2L1491.6 562.7L1493.1 560.2L1494.6 557.8L1496.0 555.3L1497.5 552.9L1498.9 550.5L1500.4 548.0L1501.9 545.5L1503.4 542.9L1505.0 540.3L1506.6 537.6L1508.3 534.7L1510.0 531.7L1511.9 528.5L1513.7 525.3L1515.6 522.0L1517.5 518.8L1519.3 515.7L1521.0 512.8L1522.6 510.1L1524.1 507.6L1525.5 505.4L1526.7 503.5L1527.8 501.7L1528.9 500.1L1529.9 498.5L1530.9 497.1L1531.9 495.7L1532.9 494.4L1533.9 493.0L1535.0 491.5L1536.2 490.0L1537.3 488.5L1538.6 487.0L1539.8 485.5L1541.0 484.1L1542.2 482.7L1543.4 481.3L1544.6 480.0L1545.7 478.8L1546.7 477.6L1547.7 476.5L1548.6 475.5L1549.4 474.5L1550.2 473.6L1551.0 472.7L1551.8 471.9L1552.6 471.1L1553.3 470.3L1554.1 469.4L1555.0 468.6L1555.9 467.7L1556.8 466.9L1557.7 466.0L1558.6 465.2L1559.5 464.4L1560.5 463.6L1561.4 462.8L1562.3 462.0L1563.3 461.2L1564.2 460.5L1565.1 459.8L1566.0 459.1L1567.0 458.5L1567.9 457.8L1568.8 457.2L1569.7 456.6L1570.7 456.0L1571.6 455.4L1572.5 454.8L1573.5 454.2L1574.5 453.6L1575.4 453.0L1576.4 452.4L1577.3 451.9L1578.3 451.3L1579.3 450.7L1580.3 450.1L1581.3 449.5L1582.4 448.9L1583.5 448.2L1584.6 447.5L1585.8 446.7L1587.0 446.0L1588.3 445.2L1589.5 444.4L1590.8 443.6L1592.1 442.8L1593.3 441.9L1594.6 441.1L1595.9 440.3L1597.2 439.5L1598.4 438.7L1599.7 437.8L1601.0 437.0L1602.3 436.2L1603.6 435.3L1604.9 434.5L1606.2 433.6L1607.5 432.8L1608.8 432.0L1610.1 431.2L1611.4 430.4L1612.7 429.7L1614.0 428.9L1615.2 428.1L1616.5 427.4L1617.8 426.6L1619.1 425.8L1620.4 425.0L1621.7 424.1L1623.0 423.2L1624.3 422.3L1625.6 421.3L1626.9 420.3L1628.2 419.4L1629.4 418.4L1630.7 417.4L1632.0 416.4L1633.3 415.4L1634.6 414.4L1635.9 413.4L1637.1 412.4L1638.4 411.5L1639.6 410.5L1640.9 409.5L1642.1 408.5L1643.4 407.5L1644.7 406.6L1646.0 405.6L1647.4 404.7L1648.8 403.8L1650.3 402.9L1651.7 402.0L1653.2 401.1L1654.8 400.2L1656.3 399.3L1657.8 398.5L1659.4 397.7L1660.9 396.9L1662.4 396.2L1663.9 395.5L1665.4 394.9L1666.9 394.3L1668.3 393.7L1669.8 393.2L1671.3 392.7L1672.8 392.2L1674.4 391.7L1675.9 391.2L1677.5 390.8L1679.1 390.4L1680.8 390.0L1682.5 389.7L1684.3 389.4L1686.1 389.1L1687.8 388.8L1689.6 388.5L1691.3 388.2L1693.0 387.9L1694.6 387.6L1696.2 387.3L1697.8 387.0L1699.3 386.7L1700.9 386.4L1702.4 386.1L1703.9 385.8L1705.3 385.5L1706.8 385.1L1708.2 384.8L1709.6 384.4L1711.0 384.0L1712.5 383.5L1713.9 382.9L1715.4 382.4L1716.8 381.8L1718.1 381.3L1719.4 380.8L1720.6 380.3L1721.6 379.9L1722.5 379.5L1723.2 379.2L1723.9 379.0L1724.4 378.8L1724.7 378.6L1725.1 378.4L1725.3 378.3L1725.5 378.2L1725.7 378.1L1725.8 378.1L1726.0 378.0" stroke="#6a4ba2" stroke-width="6.6" stroke-linejoin="round" fill="none"/><path d="M1699.4 383.6L1700.4 384.0L1701.7 384.0L1702.9 382.1L1704.5 382.3L1706.1 382.8L1706.9 381.0L1707.8 380.3L1709.0 380.6L1709.4 379.1L1710.0 377.9L1710.9 377.7L1712.0 378.0L1711.5 375.3L1712.3 375.7L1713.0 375.7L1713.5 375.1L1714.3 374.8L1713.7 371.0L1715.7 372.6L1717.4 373.7L1716.5 368.5L1718.0 369.5L1718.7 369.1L1720.0 370.8L1725.6 385.1L1726.9 390.1L1724.4 386.0L1723.4 386.1L1723.0 387.8L1722.2 388.2L1720.5 386.2L1721.8 389.9L1721.0 389.5L1719.0 387.0L1718.0 386.7L1718.1 389.2L1716.3 387.7L1715.9 389.2L1714.7 389.1L1713.5 389.4L1711.4 387.2L1710.1 387.4L1708.9 388.1L1707.4 388.1L1705.9 388.7L1704.1 388.0L1702.7 389.1L1701.6 389.9L1700.5 389.2Z" fill="#6a4ba2"/><path d="M1465.8 633.2L1467.6 627.9M1470.6 619.5L1472.4 614.2M1475.3 605.8L1477.2 600.6M1480.1 592.1L1482.0 586.9M1485.3 578.6L1487.4 573.4M1490.8 565.2L1493.0 560.0M1496.4 551.8L1498.6 546.6M1501.8 538.3L1503.9 533.1M1507.3 524.9L1509.5 519.7M1513.2 511.6L1515.5 506.5M1519.2 498.4L1521.4 493.3M1524.9 485.0L1527.2 480.0M1531.2 472.0L1533.7 467.0M1537.6 459.0L1540.3 454.0M1544.8 446.4L1547.6 441.5M1552.2 433.8L1555.0 429.0M1559.7 421.4L1562.8 416.8M1567.9 409.5L1571.2 405.0M1576.5 397.8L1580.1 393.5M1586.2 387.0L1590.3 383.2M1597.4 377.8L1602.2 374.9M1610.3 371.2L1615.7 369.5M1624.4 367.7L1630.0 367.5M1638.8 368.8L1644.4 369.0M1653.4 369.2L1658.9 368.5M1667.6 366.4L1673.0 364.9M1681.5 362.2L1686.8 360.4M1695.2 357.4L1700.4 355.6M1708.9 352.6L1714.1 350.8M1722.6 347.9L1727.9 346.0M1736.3 343.1L1741.6 341.3" stroke="#7a2288" stroke-width="5.6" fill="none"/><path d="M1568.0 432.0L1557.4 450.1M1552.6 458.3L1542.4 475.5M1537.6 483.7L1527.5 501.0M1522.7 509.2L1512.6 526.4M1507.7 534.6L1497.6 551.9M1492.8 560.1L1482.7 577.3M1477.9 585.5L1467.7 602.7M1462.9 610.9L1460.7 614.8" stroke="#7a2288" stroke-width="5.8" fill="none"/>
</g>
<path d="M1424.0 603.3h3.9M1424.0 595.9h3.9M1424.0 589.6h3.9M1424.0 584.2h3.9M1424.0 579.4h3.9M1424.0 575.1h6.5M1424.0 546.9h3.9M1424.0 530.3h3.9M1424.0 518.6h3.9M1424.0 509.5h3.9M1424.0 502.1h3.9M1424.0 495.8h3.9M1424.0 490.4h3.9M1424.0 485.6h3.9M1424.0 481.3h6.5M1424.0 453.1h3.9M1424.0 436.5h3.9M1424.0 424.8h3.9M1424.0 415.7h3.9M1424.0 408.3h3.9M1424.0 402.0h3.9M1424.0 396.6h3.9M1424.0 391.8h3.9M1424.0 387.5h6.5M1424.0 359.3h3.9M1424.0 342.7h3.9M1424.0 331.0h3.9M1443.1 612.7v-3.9M1458.6 612.7v-3.9M1471.7 612.7v-3.9M1483.0 612.7v-3.9M1493.0 612.7v-3.9M1502.0 612.7v-6.8M1560.9 612.7v-3.9M1595.4 612.7v-3.9M1619.8 612.7v-3.9M1638.8 612.7v-3.9M1654.3 612.7v-3.9M1667.4 612.7v-3.9M1678.7 612.7v-3.9M1688.7 612.7v-3.9M1697.7 612.7v-6.8" stroke="#231f20" stroke-width="1.15" fill="none"/>
<rect x="1424.0" y="321.9" width="299.0" height="290.8" fill="none" stroke="#231f20" stroke-width="1.35"/>
<text x="1411.0" y="400.0" font-size="23" text-anchor="end">10<tspan font-size="16.5" dy="-12.6" dx="1.2">0</tspan></text>
<text x="1411.0" y="491.4" font-size="23" text-anchor="end">10<tspan font-size="13.5" dy="-13.6" dx="1.0">−</tspan><tspan font-size="16.5" dy="1.0">1</tspan></text>
<text x="1411.0" y="587.6" font-size="23" text-anchor="end">10<tspan font-size="13.5" dy="-13.6" dx="1.0">−</tspan><tspan font-size="16.5" dy="1.0">2</tspan></text>
<text transform="translate(1436.2 363.8) scale(1.12 1.03)" font-size="38.5" font-weight="bold" stroke="#231f20" stroke-width="1.1">h</text>
<text transform="translate(1349.5 467.3) rotate(-90) scale(1.02 1)" font-size="26.5" text-anchor="middle"><tspan font-style="italic">N</tspan><tspan font-size="18.4" dy="10.5">7<tspan font-style="italic">ω</tspan></tspan><tspan dy="-10.5"> (a.u.)</tspan></text>
<text x="1518.6" y="586.9" font-size="26.8" font-style="italic">N</text><text x="1537.2" y="595.2" font-size="18.6">7<tspan font-style="italic">ω</tspan></text><text transform="translate(1568.4 584.7) scale(1.22 1)" font-size="24">∝</text><text x="1592.6" y="586.9" font-size="26.8" font-style="italic">N</text><text x="1613.0" y="574.3" font-size="18.4" textLength="70.2" lengthAdjust="spacingAndGlyphs">3.4 ± 0.1</text><text x="1610.8" y="589.9" font-size="17.5" font-style="italic">ω</text>
<text x="1482.4" y="647.7" font-size="23">10<tspan font-size="16.5" dy="-12.0" dx="3.6">0</tspan></text>
<text x="1677.1" y="647.7" font-size="23">10<tspan font-size="16.5" dy="-12.0" dx="1.2">1</tspan></text>
<text transform="translate(1490.9 690) scale(1.025 1)" font-size="26.5"><tspan font-style="italic">N</tspan><tspan font-size="18" dy="7" font-style="italic">ω</tspan><tspan dy="-7"> (TW cm</tspan><tspan font-size="17" dy="-13.5" dx="1">−2</tspan><tspan dy="13.5">)</tspan></text>
<text transform="translate(22 175.8) rotate(-90) scale(1.026 1)" font-size="27.5" text-anchor="middle">Classical radiation</text>
<text transform="translate(21.5 466.1) rotate(-90) scale(0.93 1)" font-size="26.5" text-anchor="middle">BSV</text>
</svg>
</body></html>
